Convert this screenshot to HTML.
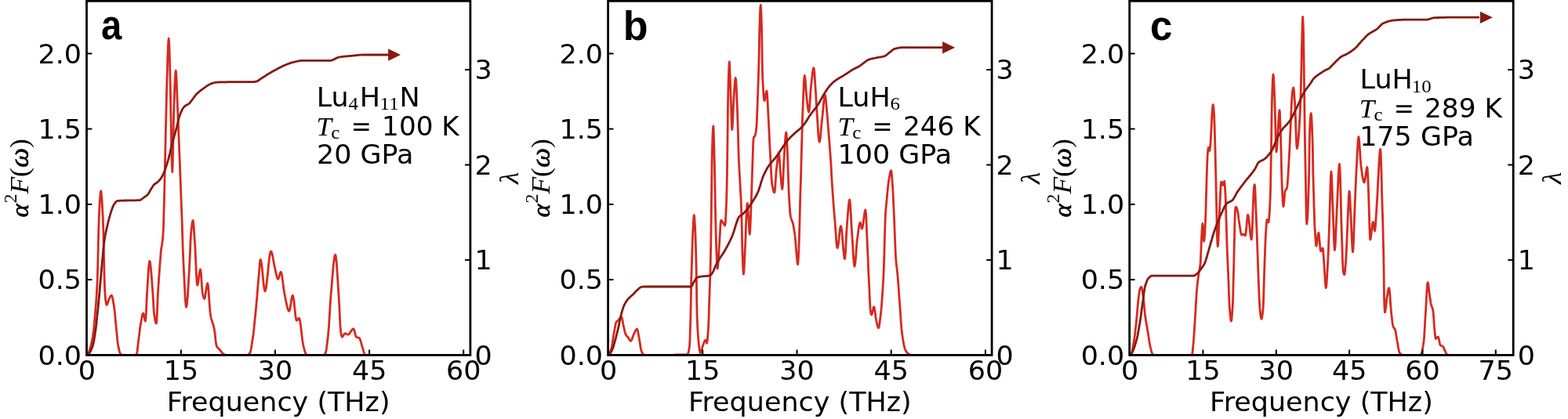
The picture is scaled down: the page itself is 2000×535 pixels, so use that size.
<!DOCTYPE html>
<html><head><meta charset="utf-8"><style>
html,body{margin:0;padding:0;background:#fff;}
svg{display:block;}
text{fill:#000;}
.t{font-family:"DejaVu Sans","Liberation Sans",sans-serif;font-size:33.5px;}
.s{font-family:"Liberation Serif",serif;font-size:35.4px;}
.i{font-style:italic;}
.b{stroke:#000;stroke-width:0.7px;}
.sup{font-size:24px;}
.seri{font-family:"Liberation Serif",serif;font-style:italic;font-size:33.5px;}
.sub{font-family:"Liberation Serif",serif;font-size:24px;}
.lt{font-family:"Liberation Sans",sans-serif;font-weight:bold;font-size:51px;}
</style></head><body>
<svg width="2000" height="535" viewBox="0 0 2000 535">
<clipPath id="c0"><rect x="110.5" y="1.3" width="489.4" height="452.09999999999997"/></clipPath>
<path clip-path="url(#c0)" d="M110.8 453.4 L111.2 453.1 L111.6 452.7 L112.0 452.2 L112.4 451.5 L112.9 450.6 L113.3 449.6 L113.8 448.4 L114.2 447.1 L114.7 445.7 L115.1 444.2 L115.6 442.6 L116.0 441.0 L116.5 439.1 L116.9 437.1 L117.4 434.8 L117.9 432.3 L118.4 429.5 L118.8 426.4 L119.3 423.0 L119.8 418.8 L120.2 413.5 L120.7 407.9 L121.2 402.2 L121.6 397.7 L122.0 393.2 L122.4 388.4 L122.8 382.9 L123.2 377.3 L123.5 371.1 L123.9 363.8 L124.3 355.0 L124.7 339.1 L125.2 318.5 L125.6 300.0 L125.9 288.4 L126.3 277.9 L126.6 270.0 L127.0 262.3 L127.4 255.2 L127.9 249.3 L128.3 245.3 L128.7 243.8 L129.1 245.4 L129.5 249.6 L130.0 255.7 L130.4 262.7 L130.8 270.0 L131.2 276.8 L131.5 285.3 L131.9 296.0 L132.2 311.9 L132.6 330.0 L132.9 346.5 L133.3 360.0 L133.6 368.7 L134.0 375.6 L134.3 380.0 L134.8 383.7 L135.2 386.6 L135.7 388.6 L136.1 389.3 L136.6 388.9 L137.1 387.8 L137.6 386.3 L138.0 384.7 L138.5 383.2 L139.0 382.0 L139.5 381.1 L139.9 380.2 L140.4 379.3 L140.8 378.5 L141.3 377.8 L141.7 377.4 L142.2 377.2 L142.6 377.6 L143.1 378.7 L143.6 380.5 L144.0 382.7 L144.4 385.3 L144.9 388.1 L145.4 391.1 L145.8 394.1 L146.3 397.9 L146.8 402.6 L147.2 407.9 L147.7 413.2 L148.2 418.2 L148.7 423.1 L149.2 428.3 L149.6 433.2 L150.1 437.5 L150.6 440.7 L151.1 443.0 L151.5 445.2 L152.0 447.1 L152.4 448.9 L152.9 450.3 L153.3 451.3 L153.8 452.0 L154.2 452.4 L154.7 452.8 L155.1 453.1 L155.6 453.3 L156.0 453.4 L156.5 453.4 L157.0 453.4 L157.5 453.4 L157.9 453.4 L158.4 453.4 L158.9 453.4 L159.4 453.4 L159.9 453.4 L160.4 453.4 L160.8 453.4 L161.3 453.4 L161.8 453.4 L162.3 453.4 L162.8 453.4 L163.3 453.4 L163.8 453.4 L164.2 453.4 L164.7 453.4 L165.2 453.4 L165.7 453.4 L166.2 453.4 L166.7 453.4 L167.2 453.4 L167.6 453.4 L168.1 453.4 L168.6 453.4 L169.1 453.4 L169.6 453.4 L170.1 453.4 L170.5 453.4 L171.0 453.4 L171.5 453.4 L172.0 453.4 L172.4 453.3 L172.8 453.2 L173.2 452.9 L173.7 452.5 L174.1 452.1 L174.5 451.5 L175.0 449.5 L175.4 445.7 L175.9 441.2 L176.4 437.0 L176.9 433.1 L177.4 429.1 L177.9 425.0 L178.3 421.1 L178.8 417.5 L179.3 414.5 L179.8 411.7 L180.3 408.9 L180.8 406.2 L181.2 403.7 L181.7 401.8 L182.2 400.5 L182.7 400.0 L183.1 400.7 L183.6 402.6 L184.1 405.0 L184.5 407.4 L184.9 409.3 L185.4 410.0 L185.9 406.9 L186.4 399.2 L186.8 389.0 L187.3 378.5 L187.8 370.0 L188.2 363.5 L188.7 356.5 L189.1 349.6 L189.5 343.3 L189.9 338.2 L190.4 334.7 L190.8 333.4 L191.3 334.3 L191.8 336.9 L192.2 340.9 L192.7 345.9 L193.2 351.6 L193.7 357.7 L194.1 364.0 L194.6 370.0 L195.1 377.3 L195.6 386.2 L196.0 394.5 L196.5 400.0 L197.0 403.4 L197.5 406.5 L197.9 409.1 L198.4 411.2 L198.9 412.5 L199.4 413.0 L199.9 409.7 L200.3 401.4 L200.8 390.4 L201.2 379.2 L201.7 370.0 L202.2 362.7 L202.6 355.9 L203.1 349.3 L203.6 343.0 L204.0 336.9 L204.5 331.0 L204.9 326.2 L205.2 321.6 L205.6 318.0 L206.0 315.5 L206.4 313.4 L206.8 311.0 L207.3 307.3 L207.7 302.5 L208.2 296.0 L208.6 287.0 L208.9 274.0 L209.3 260.0 L209.8 241.3 L210.2 220.8 L210.7 200.0 L211.1 179.3 L211.6 157.7 L212.1 137.3 L212.5 120.0 L212.9 104.3 L213.4 88.2 L213.8 73.2 L214.3 60.8 L214.8 52.3 L215.2 49.1 L215.7 53.3 L216.1 64.7 L216.6 81.0 L217.0 100.1 L217.5 120.0 L217.8 138.8 L218.2 161.5 L218.5 180.0 L218.9 198.2 L219.4 213.3 L219.8 219.6 L220.2 211.1 L220.7 191.1 L221.1 167.9 L221.5 150.0 L221.9 136.4 L222.4 122.7 L222.8 110.1 L223.3 99.7 L223.8 92.7 L224.2 90.1 L224.7 93.5 L225.2 102.4 L225.6 114.6 L226.1 127.8 L226.6 140.0 L227.1 151.3 L227.6 163.1 L228.0 175.3 L228.5 187.7 L229.0 200.0 L229.5 211.8 L229.9 223.7 L230.4 235.6 L230.8 247.8 L231.3 260.0 L231.8 273.6 L232.3 288.0 L232.8 302.5 L233.2 316.5 L233.7 329.2 L234.2 340.0 L234.7 350.0 L235.2 360.2 L235.7 370.0 L236.1 378.7 L236.6 385.7 L237.1 390.4 L237.6 392.1 L238.0 391.0 L238.5 388.1 L238.9 383.5 L239.4 377.6 L239.8 370.8 L240.3 363.3 L240.7 355.5 L241.2 347.6 L241.6 340.0 L242.1 330.3 L242.6 318.7 L243.0 307.7 L243.5 300.0 L243.9 295.3 L244.4 291.0 L244.8 287.1 L245.2 284.1 L245.7 282.1 L246.1 281.4 L246.6 283.3 L247.1 288.3 L247.5 295.1 L248.0 302.8 L248.5 310.0 L249.0 317.7 L249.4 327.2 L249.9 337.5 L250.3 347.5 L250.8 356.0 L251.2 362.0 L251.7 364.2 L252.2 363.3 L252.6 361.0 L253.1 357.8 L253.6 354.1 L254.1 350.4 L254.6 347.2 L255.0 344.9 L255.5 344.0 L255.9 345.5 L256.4 349.4 L256.8 354.8 L257.2 360.9 L257.6 366.9 L258.1 371.9 L258.5 375.0 L258.9 376.9 L259.4 378.7 L259.8 380.2 L260.3 381.1 L260.7 381.5 L261.1 380.8 L261.6 379.0 L262.0 376.4 L262.5 373.3 L262.9 370.0 L263.4 366.9 L263.8 364.3 L264.3 362.5 L264.7 361.8 L265.2 363.3 L265.7 367.2 L266.2 373.0 L266.6 379.7 L267.1 386.8 L267.6 393.5 L268.1 399.1 L268.6 402.9 L269.1 405.3 L269.6 407.3 L270.1 408.9 L270.6 410.4 L271.0 411.8 L271.5 413.2 L272.0 414.7 L272.5 416.5 L273.0 418.6 L273.5 421.5 L274.0 425.2 L274.5 429.4 L274.9 433.6 L275.4 437.4 L275.9 440.4 L276.4 442.1 L276.9 443.0 L277.4 443.6 L277.9 444.2 L278.3 444.6 L278.8 445.1 L279.3 445.5 L279.8 446.0 L280.3 446.5 L280.7 447.1 L281.2 447.7 L281.7 448.3 L282.1 448.9 L282.6 449.5 L283.1 450.0 L283.5 450.5 L284.0 451.0 L284.5 451.5 L284.9 451.9 L285.4 452.2 L285.8 452.5 L286.3 452.8 L286.7 453.0 L287.1 453.2 L287.6 453.3 L288.0 453.4 L288.5 453.4 L289.0 453.4 L289.5 453.4 L290.0 453.4 L290.5 453.4 L290.9 453.4 L291.4 453.4 L291.9 453.4 L292.4 453.4 L292.9 453.4 L293.4 453.4 L293.9 453.4 L294.4 453.4 L294.9 453.4 L295.4 453.4 L295.9 453.4 L296.3 453.4 L296.8 453.4 L297.3 453.4 L297.8 453.4 L298.3 453.4 L298.8 453.4 L299.3 453.4 L299.8 453.4 L300.3 453.4 L300.8 453.4 L301.3 453.4 L301.8 453.4 L302.2 453.4 L302.7 453.4 L303.2 453.4 L303.7 453.4 L304.2 453.4 L304.7 453.4 L305.2 453.4 L305.7 453.4 L306.2 453.4 L306.7 453.4 L307.2 453.4 L307.6 453.4 L308.1 453.4 L308.6 453.4 L309.1 453.4 L309.6 453.4 L310.1 453.4 L310.6 453.4 L311.1 453.4 L311.6 453.4 L312.1 453.4 L312.6 453.4 L313.0 453.4 L313.5 453.4 L314.0 453.4 L314.5 453.4 L315.0 453.4 L315.5 453.4 L316.0 453.3 L316.4 453.1 L316.9 452.8 L317.4 452.3 L317.9 451.8 L318.3 451.2 L318.8 450.5 L319.3 449.5 L319.7 447.8 L320.2 445.7 L320.6 443.2 L321.1 440.4 L321.5 437.5 L322.0 434.6 L322.5 431.3 L323.0 427.6 L323.5 423.6 L324.0 419.3 L324.4 414.8 L324.9 410.0 L325.4 405.1 L325.9 400.0 L326.4 394.9 L326.9 389.8 L327.3 385.1 L327.8 379.9 L328.2 374.6 L328.6 369.1 L329.0 363.8 L329.5 358.6 L329.9 353.9 L330.4 348.3 L330.9 342.4 L331.3 336.9 L331.8 332.9 L332.3 331.4 L332.8 332.2 L333.2 334.4 L333.7 337.7 L334.2 341.9 L334.7 346.6 L335.1 351.6 L335.6 356.6 L336.1 361.3 L336.6 365.5 L337.1 368.8 L337.5 371.0 L338.0 371.8 L338.5 371.2 L338.9 369.6 L339.4 367.1 L339.9 363.8 L340.3 360.0 L340.8 355.7 L341.3 351.1 L341.8 346.4 L342.2 341.6 L342.7 337.0 L343.2 332.7 L343.6 328.9 L344.1 325.6 L344.6 323.1 L345.0 321.5 L345.5 320.9 L346.0 321.3 L346.5 322.3 L347.0 323.9 L347.5 325.9 L348.0 328.3 L348.4 330.9 L348.9 333.6 L349.4 336.3 L349.9 338.9 L350.4 341.3 L350.9 343.4 L351.3 345.3 L351.8 347.4 L352.2 349.5 L352.7 351.6 L353.1 353.4 L353.6 354.9 L354.1 355.9 L354.5 356.3 L355.0 355.9 L355.4 354.9 L355.9 353.5 L356.4 351.8 L356.9 350.1 L357.4 348.7 L357.8 347.7 L358.3 347.3 L358.8 347.9 L359.2 349.5 L359.7 351.9 L360.1 355.0 L360.6 358.4 L361.0 362.1 L361.4 365.8 L361.9 369.2 L362.4 372.3 L362.8 374.8 L363.3 377.0 L363.7 379.3 L364.2 381.7 L364.6 384.0 L365.1 386.3 L365.6 388.5 L366.0 390.5 L366.5 392.4 L367.0 394.0 L367.4 395.3 L367.9 396.3 L368.3 397.0 L368.8 397.2 L369.2 396.6 L369.7 395.1 L370.2 392.9 L370.6 390.2 L371.1 387.2 L371.5 384.2 L371.9 381.5 L372.4 379.3 L372.9 377.8 L373.3 377.2 L373.8 377.9 L374.2 380.0 L374.7 383.0 L375.2 386.8 L375.6 391.0 L376.1 395.4 L376.5 399.6 L377.0 403.4 L377.5 406.4 L377.9 408.5 L378.4 409.2 L378.8 409.0 L379.3 408.6 L379.7 408.0 L380.1 407.4 L380.5 406.8 L381.0 406.4 L381.4 406.2 L381.9 406.8 L382.4 408.6 L382.9 411.2 L383.4 414.6 L383.9 418.4 L384.3 422.6 L384.8 426.8 L385.3 430.9 L385.8 434.8 L386.3 438.0 L386.8 440.6 L387.3 442.6 L387.7 444.5 L388.2 446.3 L388.6 448.0 L389.1 449.5 L389.5 450.7 L390.0 451.5 L390.4 452.1 L390.8 452.6 L391.2 453.0 L391.6 453.3 L392.0 453.4 L392.5 453.4 L393.0 453.4 L393.5 453.4 L394.0 453.4 L394.4 453.4 L394.9 453.4 L395.4 453.4 L395.9 453.4 L396.4 453.4 L396.9 453.4 L397.4 453.4 L397.9 453.4 L398.3 453.4 L398.8 453.4 L399.3 453.4 L399.8 453.4 L400.3 453.4 L400.8 453.4 L401.3 453.4 L401.8 453.4 L402.2 453.4 L402.7 453.4 L403.2 453.4 L403.7 453.4 L404.2 453.4 L404.7 453.4 L405.2 453.4 L405.7 453.4 L406.2 453.4 L406.6 453.4 L407.1 453.4 L407.6 453.4 L408.1 453.4 L408.6 453.4 L409.1 453.4 L409.6 453.4 L410.1 453.4 L410.5 453.4 L411.0 453.4 L411.5 453.4 L412.0 453.4 L412.5 453.4 L412.9 453.3 L413.4 453.0 L413.9 452.6 L414.3 452.0 L414.8 451.3 L415.2 450.5 L415.6 449.3 L416.1 447.3 L416.5 444.7 L416.9 441.5 L417.4 437.9 L417.8 434.0 L418.3 429.9 L418.7 425.7 L419.1 420.9 L419.6 414.9 L420.0 408.2 L420.4 401.1 L420.9 393.8 L421.3 386.8 L421.8 380.4 L422.2 374.9 L422.7 369.6 L423.1 364.0 L423.6 358.4 L424.0 352.9 L424.5 347.5 L424.9 342.4 L425.4 337.7 L425.9 333.6 L426.3 330.2 L426.8 327.6 L427.2 326.0 L427.7 325.4 L428.2 326.5 L428.6 329.4 L429.1 333.9 L429.6 339.6 L430.0 346.2 L430.5 353.3 L431.0 360.7 L431.4 368.0 L431.9 374.9 L432.3 381.9 L432.8 390.3 L433.2 399.3 L433.6 408.1 L434.0 416.0 L434.5 422.1 L434.9 425.7 L435.3 427.4 L435.6 428.8 L436.0 429.8 L436.4 430.2 L436.8 430.0 L437.3 429.5 L437.8 428.8 L438.2 427.9 L438.6 427.1 L439.1 426.4 L439.6 425.9 L440.0 425.7 L440.5 425.8 L441.0 425.9 L441.5 426.2 L441.9 426.4 L442.4 426.7 L442.9 427.0 L443.4 427.1 L443.9 427.2 L444.4 427.1 L444.9 426.8 L445.4 426.3 L445.9 425.7 L446.4 425.0 L446.9 424.3 L447.4 423.5 L447.8 422.7 L448.3 422.0 L448.8 421.3 L449.3 420.7 L449.8 420.2 L450.3 419.9 L450.8 419.8 L451.2 420.2 L451.7 421.3 L452.1 422.9 L452.6 424.7 L453.1 426.5 L453.5 428.2 L453.9 429.5 L454.4 430.2 L454.9 430.5 L455.4 430.7 L455.9 430.8 L456.4 430.9 L456.8 431.1 L457.3 431.2 L457.8 431.4 L458.3 431.7 L458.8 432.2 L459.2 433.2 L459.6 434.4 L460.1 435.9 L460.6 437.5 L461.0 439.2 L461.4 440.7 L461.9 442.2 L462.3 443.6 L462.8 445.1 L463.2 446.7 L463.6 448.2 L464.0 449.6 L464.5 450.7 L464.9 451.5 L465.3 452.1 L465.7 452.6 L466.2 453.0 L466.6 453.3 L467.0 453.4 L467.5 453.4 L468.0 453.4 L468.5 453.4 L469.0 453.4 L469.5 453.4 L470.0 453.4 L470.5 453.4 L471.0 453.4 L471.5 453.4 L472.0 453.4 L472.5 453.4 L473.0 453.4 L473.5 453.4 L474.0 453.4 L474.5 453.4 L475.0 453.4 L475.5 453.4 L476.0 453.4 L476.5 453.4 L477.0 453.4 L477.5 453.4 L478.0 453.4 L478.5 453.4 L479.0 453.4 L479.5 453.4 L480.0 453.4 L480.4 453.4 L480.9 453.4 L481.4 453.4 L481.9 453.4 L482.4 453.4 L482.9 453.4 L483.4 453.4 L483.9 453.4 L484.4 453.4 L484.9 453.4 L485.4 453.4 L485.9 453.4 L486.4 453.4 L486.9 453.4 L487.4 453.4 L487.9 453.4 L488.4 453.4 L488.9 453.4 L489.4 453.4 L489.9 453.4 L490.4 453.4 L490.9 453.4 L491.4 453.4 L491.9 453.4 L492.4 453.4 L492.9 453.4 L493.4 453.4 L493.9 453.4 L494.4 453.4 L494.9 453.4 L495.4 453.4 L495.9 453.4 L496.4 453.4 L496.9 453.4 L497.4 453.4 L497.9 453.4 L498.4 453.4 L498.9 453.4 L499.4 453.4 L499.9 453.4 L500.4 453.4 L500.9 453.4 L501.4 453.4 L501.9 453.4 L502.4 453.4 L502.9 453.4 L503.4 453.4 L503.9 453.4 L504.4 453.4 L504.9 453.4 L505.4 453.4 L505.9 453.4 L506.4 453.4 L506.9 453.4 L507.3 453.4 L507.8 453.4 L508.3 453.4 L508.8 453.4 L509.3 453.4 L509.8 453.4 L510.3 453.4 L510.8 453.4 L511.3 453.4 L511.8 453.4 L512.3 453.4 L512.8 453.4 L513.3 453.4 L513.8 453.4 L514.3 453.4 L514.8 453.4 L515.3 453.4 L515.8 453.4 L516.3 453.4 L516.8 453.4 L517.3 453.4 L517.8 453.4 L518.3 453.4 L518.8 453.4 L519.3 453.4 L519.8 453.4 L520.3 453.4 L520.8 453.4 L521.3 453.4 L521.8 453.4 L522.3 453.4 L522.8 453.4 L523.3 453.4 L523.8 453.4 L524.3 453.4 L524.8 453.4 L525.3 453.4 L525.8 453.4 L526.3 453.4 L526.8 453.4 L527.3 453.4 L527.8 453.4 L528.3 453.4 L528.8 453.4 L529.3 453.4 L529.8 453.4 L530.3 453.4 L530.8 453.4 L531.3 453.4 L531.8 453.4 L532.3 453.4 L532.8 453.4 L533.3 453.4 L533.7 453.4 L534.2 453.4 L534.7 453.4 L535.2 453.4 L535.7 453.4 L536.2 453.4 L536.7 453.4 L537.2 453.4 L537.7 453.4 L538.2 453.4 L538.7 453.4 L539.2 453.4 L539.7 453.4 L540.2 453.4 L540.7 453.4 L541.2 453.4 L541.7 453.4 L542.2 453.4 L542.7 453.4 L543.2 453.4 L543.7 453.4 L544.2 453.4 L544.7 453.4 L545.2 453.4 L545.7 453.4 L546.2 453.4 L546.7 453.4 L547.2 453.4 L547.7 453.4 L548.2 453.4 L548.7 453.4 L549.2 453.4 L549.7 453.4 L550.2 453.4 L550.7 453.4 L551.2 453.4 L551.7 453.4 L552.2 453.4 L552.7 453.4 L553.2 453.4 L553.7 453.4 L554.2 453.4 L554.7 453.4 L555.2 453.4 L555.7 453.4 L556.2 453.4 L556.7 453.4 L557.2 453.4 L557.7 453.4 L558.2 453.4 L558.7 453.4 L559.2 453.4 L559.7 453.4 L560.1 453.4 L560.6 453.4 L561.1 453.4 L561.6 453.4 L562.1 453.4 L562.6 453.4 L563.1 453.4 L563.6 453.4 L564.1 453.4 L564.6 453.4 L565.1 453.4 L565.6 453.4 L566.1 453.4 L566.6 453.4 L567.1 453.4 L567.6 453.4 L568.1 453.4 L568.6 453.4 L569.1 453.4 L569.6 453.4 L570.1 453.4 L570.6 453.4 L571.1 453.4 L571.6 453.4 L572.1 453.4 L572.6 453.4 L573.1 453.4 L573.6 453.4 L574.1 453.4 L574.6 453.4 L575.1 453.4 L575.6 453.4 L576.1 453.4 L576.6 453.4 L577.1 453.4 L577.6 453.4 L578.1 453.4 L578.6 453.4 L579.1 453.4 L579.6 453.4 L580.1 453.4 L580.6 453.4 L581.1 453.4 L581.6 453.4 L582.1 453.4 L582.6 453.4 L583.1 453.4 L583.6 453.4 L584.1 453.4 L584.6 453.4 L585.1 453.4 L585.6 453.4 L586.1 453.4 L586.6 453.4 L587.0 453.4 L587.5 453.4 L588.0 453.4 L588.5 453.4 L589.0 453.4 L589.5 453.4 L590.0 453.4 L590.5 453.4 L591.0 453.4 L591.5 453.4 L592.0 453.4 L592.5 453.4 L593.0 453.4 L593.5 453.4 L594.0 453.4 L594.5 453.4 L595.0 453.4 L595.5 453.4 L596.0 453.4 L596.5 453.4 L597.0 453.4 L597.5 453.4 L598.0 453.4 L598.5 453.4 L599.0 453.4 L599.5 453.4 L600.0 453.4" fill="none" stroke="#d62a1f" stroke-width="2.8" stroke-linejoin="round" stroke-linecap="round"/>
<path d="M110.8 453.4 L111.3 453.2 L111.7 452.9 L112.2 452.6 L112.7 452.2 L113.1 451.7 L113.6 451.2 L114.1 450.6 L114.6 449.9 L115.1 449.1 L115.6 448.2 L116.0 447.2 L116.5 446.1 L117.0 444.9 L117.5 443.6 L118.0 442.2 L118.5 440.7 L119.0 439.0 L119.4 437.0 L119.9 434.6 L120.3 432.0 L120.8 429.1 L121.2 426.1 L121.7 423.0 L122.2 419.5 L122.7 415.5 L123.1 411.2 L123.6 406.7 L124.1 402.2 L124.6 397.6 L125.1 392.9 L125.5 388.1 L126.0 383.1 L126.5 378.0 L127.0 372.8 L127.4 367.5 L127.9 361.9 L128.4 356.4 L128.9 350.9 L129.3 345.5 L129.8 340.4 L130.3 335.2 L130.8 329.8 L131.3 324.5 L131.7 319.4 L132.2 314.7 L132.7 310.4 L133.2 306.8 L133.7 303.8 L134.1 301.1 L134.6 298.6 L135.1 296.3 L135.6 294.1 L136.0 292.1 L136.5 290.0 L137.0 288.0 L137.4 286.1 L137.9 284.2 L138.3 282.3 L138.8 280.5 L139.2 278.7 L139.7 277.0 L140.2 275.3 L140.6 273.8 L141.1 272.2 L141.5 270.8 L142.0 269.4 L142.5 268.1 L142.9 266.8 L143.4 265.5 L143.8 264.3 L144.3 263.2 L144.7 262.3 L145.2 261.5 L145.7 260.8 L146.1 260.1 L146.6 259.4 L147.0 258.8 L147.5 258.2 L148.0 257.7 L148.4 257.2 L148.9 256.9 L149.3 256.6 L149.8 256.5 L150.3 256.4 L150.8 256.4 L151.3 256.4 L151.8 256.3 L152.2 256.3 L152.7 256.3 L153.2 256.2 L153.7 256.2 L154.2 256.2 L154.7 256.2 L155.2 256.1 L155.7 256.1 L156.2 256.1 L156.7 256.1 L157.2 256.1 L157.6 256.1 L158.1 256.0 L158.6 256.0 L159.1 256.0 L159.6 256.0 L160.1 256.0 L160.6 256.0 L161.1 256.0 L161.6 255.9 L162.1 255.9 L162.6 255.9 L163.1 255.9 L163.6 255.9 L164.1 255.9 L164.6 255.9 L165.1 255.9 L165.6 255.9 L166.1 255.9 L166.6 255.9 L167.1 255.9 L167.6 255.9 L168.1 255.9 L168.6 255.8 L169.0 255.8 L169.5 255.8 L170.0 255.8 L170.5 255.8 L171.0 255.8 L171.5 255.8 L172.0 255.8 L172.5 255.8 L173.0 255.8 L173.5 255.8 L174.0 255.8 L174.5 255.7 L175.0 255.7 L175.5 255.7 L176.0 255.7 L176.5 255.7 L177.0 255.6 L177.5 255.6 L178.0 255.6 L178.5 255.5 L178.9 255.4 L179.4 255.2 L179.9 254.9 L180.4 254.6 L180.8 254.2 L181.3 253.9 L181.8 253.5 L182.3 253.1 L182.7 252.7 L183.2 252.4 L183.7 252.1 L184.1 251.8 L184.6 251.5 L185.1 251.1 L185.6 250.8 L186.0 250.5 L186.5 250.1 L187.0 249.7 L187.5 249.3 L187.9 248.9 L188.4 248.4 L188.8 247.9 L189.3 247.3 L189.7 246.6 L190.2 245.8 L190.6 245.0 L191.1 244.2 L191.5 243.4 L192.0 242.6 L192.4 241.9 L192.9 241.1 L193.4 240.3 L193.9 239.5 L194.4 238.7 L194.8 237.9 L195.3 237.2 L195.8 236.6 L196.3 236.0 L196.8 235.5 L197.2 235.1 L197.7 234.8 L198.2 234.5 L198.7 234.1 L199.1 233.8 L199.6 233.5 L200.1 233.2 L200.6 232.9 L201.0 232.5 L201.5 232.1 L202.0 231.6 L202.5 231.1 L203.0 230.6 L203.4 230.1 L203.9 229.5 L204.4 228.9 L204.9 228.2 L205.4 227.5 L205.8 226.8 L206.3 226.1 L206.7 225.3 L207.2 224.4 L207.6 223.5 L208.1 222.6 L208.5 221.6 L209.0 220.6 L209.4 219.6 L209.9 218.5 L210.3 217.3 L210.8 216.0 L211.2 214.7 L211.7 213.3 L212.1 211.9 L212.6 210.5 L213.1 209.1 L213.5 207.6 L213.9 206.1 L214.4 204.6 L214.9 203.0 L215.3 201.3 L215.8 199.4 L216.3 197.4 L216.8 195.3 L217.2 193.1 L217.7 191.0 L218.2 188.8 L218.7 186.8 L219.2 184.8 L219.7 183.0 L220.1 181.3 L220.6 179.6 L221.1 177.9 L221.5 176.3 L222.0 174.7 L222.5 173.1 L222.9 171.5 L223.4 169.8 L223.9 168.2 L224.3 166.5 L224.8 164.7 L225.2 162.9 L225.7 161.0 L226.2 159.0 L226.6 157.1 L227.1 155.1 L227.5 153.3 L228.0 151.5 L228.4 150.0 L228.8 148.7 L229.3 147.4 L229.7 146.2 L230.1 145.1 L230.6 144.0 L231.0 143.0 L231.5 141.9 L232.0 140.9 L232.4 139.9 L232.9 139.0 L233.4 138.3 L233.8 137.7 L234.3 137.1 L234.8 136.6 L235.2 136.2 L235.7 135.7 L236.1 135.3 L236.6 134.9 L237.0 134.6 L237.4 134.3 L237.9 134.1 L238.3 133.8 L238.8 133.6 L239.2 133.4 L239.7 133.2 L240.1 133.0 L240.6 132.7 L241.0 132.4 L241.5 132.0 L241.9 131.5 L242.4 131.0 L242.9 130.4 L243.3 129.8 L243.8 129.2 L244.3 128.5 L244.7 127.9 L245.2 127.3 L245.7 126.7 L246.1 126.1 L246.6 125.4 L247.1 124.8 L247.5 124.1 L248.0 123.5 L248.4 122.9 L248.9 122.2 L249.4 121.7 L249.8 121.1 L250.3 120.6 L250.8 120.1 L251.3 119.6 L251.8 119.1 L252.3 118.7 L252.8 118.2 L253.3 117.8 L253.8 117.3 L254.3 116.9 L254.7 116.5 L255.2 116.1 L255.7 115.7 L256.2 115.3 L256.7 115.0 L257.2 114.6 L257.7 114.2 L258.2 113.9 L258.7 113.5 L259.2 113.1 L259.7 112.8 L260.1 112.4 L260.6 112.1 L261.1 111.7 L261.6 111.4 L262.1 111.0 L262.5 110.7 L263.0 110.4 L263.5 110.0 L264.0 109.7 L264.5 109.4 L265.0 109.1 L265.4 108.8 L265.9 108.5 L266.4 108.2 L266.9 108.0 L267.4 107.7 L267.8 107.5 L268.3 107.3 L268.8 107.1 L269.3 106.9 L269.8 106.7 L270.2 106.6 L270.7 106.4 L271.2 106.2 L271.7 106.1 L272.1 105.9 L272.6 105.8 L273.1 105.6 L273.6 105.5 L274.1 105.4 L274.5 105.3 L275.0 105.3 L275.5 105.2 L276.0 105.2 L276.5 105.1 L277.0 105.1 L277.5 105.1 L278.0 105.0 L278.5 105.0 L279.0 105.0 L279.5 104.9 L279.9 104.9 L280.4 104.9 L280.9 104.9 L281.4 104.9 L281.9 104.8 L282.4 104.8 L282.9 104.8 L283.4 104.8 L283.9 104.8 L284.4 104.8 L284.9 104.8 L285.4 104.8 L285.9 104.8 L286.4 104.8 L286.9 104.8 L287.4 104.8 L287.9 104.8 L288.4 104.8 L288.9 104.8 L289.4 104.8 L289.9 104.7 L290.3 104.7 L290.8 104.7 L291.3 104.7 L291.8 104.7 L292.3 104.7 L292.8 104.7 L293.3 104.7 L293.8 104.7 L294.3 104.7 L294.8 104.7 L295.3 104.7 L295.8 104.7 L296.3 104.7 L296.8 104.7 L297.3 104.7 L297.8 104.7 L298.3 104.7 L298.8 104.7 L299.3 104.7 L299.8 104.7 L300.3 104.7 L300.8 104.7 L301.3 104.7 L301.8 104.7 L302.3 104.7 L302.8 104.7 L303.2 104.7 L303.7 104.7 L304.2 104.7 L304.7 104.7 L305.2 104.7 L305.7 104.7 L306.2 104.7 L306.7 104.7 L307.2 104.7 L307.7 104.7 L308.2 104.7 L308.7 104.7 L309.2 104.7 L309.7 104.7 L310.2 104.7 L310.7 104.7 L311.2 104.7 L311.7 104.7 L312.2 104.7 L312.7 104.7 L313.2 104.7 L313.7 104.7 L314.2 104.7 L314.7 104.7 L315.2 104.7 L315.7 104.7 L316.2 104.7 L316.6 104.7 L317.1 104.7 L317.6 104.7 L318.1 104.6 L318.6 104.6 L319.1 104.6 L319.6 104.6 L320.1 104.6 L320.6 104.6 L321.1 104.6 L321.6 104.6 L322.1 104.6 L322.6 104.6 L323.1 104.6 L323.5 104.6 L324.0 104.5 L324.5 104.5 L324.9 104.4 L325.4 104.3 L325.8 104.2 L326.3 104.1 L326.8 104.0 L327.2 103.9 L327.7 103.8 L328.2 103.6 L328.7 103.4 L329.1 103.1 L329.6 102.8 L330.1 102.4 L330.6 102.1 L331.0 101.7 L331.5 101.3 L332.0 101.0 L332.5 100.7 L332.9 100.4 L333.4 100.1 L333.8 99.8 L334.3 99.6 L334.7 99.3 L335.2 99.0 L335.6 98.7 L336.1 98.4 L336.6 98.1 L337.1 97.8 L337.6 97.4 L338.1 97.1 L338.5 96.8 L339.0 96.4 L339.5 96.1 L340.0 95.8 L340.5 95.5 L341.0 95.2 L341.5 94.9 L341.9 94.6 L342.4 94.3 L342.9 94.0 L343.4 93.8 L343.9 93.5 L344.3 93.2 L344.8 92.9 L345.3 92.6 L345.8 92.4 L346.2 92.1 L346.7 91.8 L347.2 91.5 L347.7 91.3 L348.2 91.0 L348.6 90.7 L349.1 90.5 L349.6 90.2 L350.1 89.9 L350.6 89.7 L351.0 89.4 L351.5 89.2 L352.0 88.9 L352.5 88.6 L353.0 88.4 L353.5 88.1 L354.0 87.8 L354.5 87.6 L355.0 87.3 L355.5 87.0 L356.0 86.8 L356.5 86.5 L357.0 86.2 L357.4 86.0 L357.9 85.7 L358.4 85.5 L358.9 85.2 L359.4 85.0 L359.9 84.7 L360.4 84.5 L360.9 84.3 L361.4 84.0 L361.9 83.8 L362.4 83.6 L362.9 83.4 L363.4 83.2 L363.9 83.0 L364.4 82.8 L364.9 82.6 L365.3 82.4 L365.8 82.2 L366.3 82.0 L366.8 81.8 L367.3 81.7 L367.8 81.5 L368.3 81.3 L368.8 81.1 L369.2 80.9 L369.7 80.8 L370.2 80.6 L370.7 80.4 L371.2 80.3 L371.7 80.1 L372.2 80.0 L372.7 79.8 L373.1 79.7 L373.6 79.6 L374.1 79.4 L374.6 79.3 L375.1 79.2 L375.6 79.1 L376.1 79.0 L376.6 78.8 L377.1 78.7 L377.6 78.6 L378.1 78.5 L378.6 78.4 L379.1 78.3 L379.6 78.1 L380.1 78.0 L380.6 77.9 L381.0 77.8 L381.5 77.7 L382.0 77.7 L382.5 77.6 L383.0 77.5 L383.5 77.4 L384.0 77.4 L384.5 77.4 L385.0 77.3 L385.5 77.3 L386.0 77.3 L386.5 77.3 L387.0 77.3 L387.5 77.3 L388.0 77.3 L388.5 77.3 L389.0 77.3 L389.5 77.3 L390.0 77.3 L390.5 77.3 L391.0 77.3 L391.5 77.3 L391.9 77.3 L392.4 77.3 L392.9 77.3 L393.4 77.3 L393.9 77.3 L394.4 77.3 L394.9 77.3 L395.4 77.3 L395.9 77.3 L396.4 77.3 L396.9 77.3 L397.4 77.3 L397.9 77.3 L398.4 77.3 L398.9 77.3 L399.4 77.3 L399.9 77.3 L400.4 77.3 L400.9 77.3 L401.4 77.3 L401.9 77.3 L402.4 77.3 L402.9 77.3 L403.4 77.3 L403.8 77.3 L404.3 77.3 L404.8 77.3 L405.3 77.3 L405.8 77.3 L406.3 77.3 L406.8 77.3 L407.3 77.3 L407.8 77.3 L408.3 77.3 L408.8 77.3 L409.3 77.3 L409.8 77.3 L410.3 77.3 L410.8 77.3 L411.3 77.3 L411.8 77.3 L412.3 77.3 L412.8 77.3 L413.3 77.3 L413.8 77.3 L414.3 77.3 L414.8 77.3 L415.3 77.3 L415.7 77.3 L416.2 77.3 L416.7 77.3 L417.2 77.3 L417.7 77.3 L418.2 77.3 L418.7 77.3 L419.2 77.3 L419.7 77.3 L420.2 77.3 L420.7 77.3 L421.2 77.3 L421.7 77.3 L422.2 77.2 L422.6 77.1 L423.1 77.0 L423.6 76.9 L424.1 76.7 L424.5 76.5 L425.0 76.3 L425.5 76.1 L426.0 75.8 L426.5 75.6 L426.9 75.3 L427.4 75.1 L427.9 74.8 L428.4 74.6 L428.9 74.3 L429.3 74.1 L429.8 73.9 L430.3 73.7 L430.8 73.5 L431.2 73.3 L431.7 73.2 L432.2 73.1 L432.7 73.0 L433.2 72.9 L433.7 72.8 L434.2 72.8 L434.7 72.7 L435.2 72.6 L435.7 72.6 L436.1 72.5 L436.6 72.4 L437.1 72.4 L437.6 72.3 L438.1 72.2 L438.6 72.2 L439.1 72.1 L439.6 72.1 L440.1 72.0 L440.6 72.0 L441.1 71.9 L441.6 71.9 L442.1 71.8 L442.6 71.8 L443.1 71.7 L443.6 71.7 L444.1 71.7 L444.5 71.6 L445.0 71.6 L445.5 71.5 L446.0 71.5 L446.5 71.4 L447.0 71.4 L447.5 71.3 L448.0 71.3 L448.5 71.3 L449.0 71.2 L449.5 71.2 L450.0 71.1 L450.5 71.0 L451.0 71.0 L451.5 70.9 L451.9 70.9 L452.4 70.8 L452.9 70.8 L453.4 70.7 L453.9 70.7 L454.4 70.6 L454.9 70.6 L455.4 70.5 L455.9 70.5 L456.4 70.4 L456.9 70.4 L457.4 70.3 L457.9 70.3 L458.4 70.2 L458.9 70.2 L459.4 70.2 L459.9 70.1 L460.3 70.1 L460.8 70.1 L461.3 70.1 L461.8 70.0 L462.3 70.0 L462.8 70.0 L463.3 70.0 L463.8 70.0 L464.3 70.0 L464.8 70.0 L465.3 70.0 L465.8 70.0 L466.3 70.0 L466.8 70.0 L467.3 70.0 L467.8 70.0 L468.3 70.0 L468.8 70.0 L469.3 70.0 L469.8 70.0 L470.3 70.0 L470.8 70.0 L471.3 70.0 L471.8 70.0 L472.2 70.0 L472.7 70.0 L473.2 70.0 L473.7 70.0 L474.2 70.0 L474.7 70.0 L475.2 70.0 L475.7 70.0 L476.2 70.0 L476.7 70.0 L477.2 70.0 L477.7 70.0 L478.2 70.0 L478.7 70.0 L479.2 70.0 L479.7 70.0 L480.2 70.0 L480.7 70.0 L481.2 70.0 L481.7 70.0 L482.2 70.0 L482.7 70.0 L483.2 70.0 L483.7 70.0 L484.2 70.0 L484.7 70.0 L485.2 70.0 L485.7 70.0 L486.2 70.0 L486.7 70.0 L487.2 70.0 L487.7 70.0 L488.2 70.0 L488.6 70.0 L489.1 70.0 L489.6 70.0 L490.1 70.0 L490.6 70.0 L491.1 70.0 L491.6 70.0 L492.1 70.0 L492.6 70.0 L493.1 70.0 L493.6 70.0 L494.1 70.0 L494.6 70.0 L495.1 70.0 L495.6 70.0 L496.1 70.0 L496.6 70.0" fill="none" stroke="#861a12" stroke-width="2.8" stroke-linejoin="round" stroke-linecap="butt"/>
<polygon points="495.1,62.2 511.0,70.0 495.1,77.8" fill="#861a12"/>
<rect x="110.5" y="1.3" width="489.4" height="452.1" fill="none" stroke="#000" stroke-width="2.8"/>
<text transform="translate(110.80,484.60) scale(1.043,1)" text-anchor="middle" class="t">0</text>
<line x1="230.9" y1="453.4" x2="230.9" y2="446.5" stroke="#000" stroke-width="2.0"/>
<text transform="translate(230.90,484.60) scale(1.043,1)" text-anchor="middle" class="t">15</text>
<line x1="351.0" y1="453.4" x2="351.0" y2="446.5" stroke="#000" stroke-width="2.0"/>
<text transform="translate(351.01,484.60) scale(1.043,1)" text-anchor="middle" class="t">30</text>
<line x1="471.1" y1="453.4" x2="471.1" y2="446.5" stroke="#000" stroke-width="2.0"/>
<text transform="translate(471.12,484.60) scale(1.043,1)" text-anchor="middle" class="t">45</text>
<line x1="591.2" y1="453.4" x2="591.2" y2="446.5" stroke="#000" stroke-width="2.0"/>
<text transform="translate(591.22,484.60) scale(1.043,1)" text-anchor="middle" class="t">60</text>
<text transform="translate(104.00,465.60) scale(1.043,1)" text-anchor="end" class="t">0.0</text>
<line x1="110.5" y1="357.1" x2="117.4" y2="357.1" stroke="#000" stroke-width="2.0"/>
<text transform="translate(104.00,369.35) scale(1.043,1)" text-anchor="end" class="t">0.5</text>
<line x1="110.5" y1="260.9" x2="117.4" y2="260.9" stroke="#000" stroke-width="2.0"/>
<text transform="translate(104.00,273.10) scale(1.043,1)" text-anchor="end" class="t">1.0</text>
<line x1="110.5" y1="164.6" x2="117.4" y2="164.6" stroke="#000" stroke-width="2.0"/>
<text transform="translate(104.00,176.85) scale(1.043,1)" text-anchor="end" class="t">1.5</text>
<line x1="110.5" y1="68.4" x2="117.4" y2="68.4" stroke="#000" stroke-width="2.0"/>
<text transform="translate(104.00,80.60) scale(1.043,1)" text-anchor="end" class="t">2.0</text>
<text transform="translate(605.40,465.60) scale(1.043,1)" text-anchor="start" class="t">0</text>
<line x1="599.9" y1="331.9" x2="593.0" y2="331.9" stroke="#000" stroke-width="2.0"/>
<text transform="translate(605.40,344.13) scale(1.043,1)" text-anchor="start" class="t">1</text>
<line x1="599.9" y1="210.5" x2="593.0" y2="210.5" stroke="#000" stroke-width="2.0"/>
<text transform="translate(605.40,222.66) scale(1.043,1)" text-anchor="start" class="t">2</text>
<line x1="599.9" y1="89.0" x2="593.0" y2="89.0" stroke="#000" stroke-width="2.0"/>
<text transform="translate(605.40,101.19) scale(1.043,1)" text-anchor="start" class="t">3</text>
<text transform="translate(355.20,524.80) scale(1.043,1)" text-anchor="middle" class="t">Frequency (THz)</text>
<text transform="translate(35.5,227.3) rotate(-90) scale(1,0.96)" text-anchor="middle" class="s"><tspan class="i b" font-size="32">α</tspan><tspan class="sup" dy="-15" dx="1">2</tspan><tspan class="i" dy="15">F</tspan>(<tspan class="i b">ω</tspan>)</text>
<text transform="translate(660.9,227.3) rotate(-90) scale(1,0.96)" text-anchor="middle" class="s i">λ</text>
<text transform="translate(128.91,50.20) scale(0.926,1)" text-anchor="start" class="lt">a</text>
<clipPath id="c1"><rect x="775.6" y="1.3" width="489.4999999999999" height="452.09999999999997"/></clipPath>
<path clip-path="url(#c1)" d="M776.0 453.4 L776.4 453.1 L776.7 452.6 L777.1 451.9 L777.6 451.0 L778.0 450.0 L778.5 448.8 L778.9 447.5 L779.3 446.1 L779.8 444.6 L780.2 443.0 L780.6 441.0 L781.1 438.5 L781.5 435.6 L782.0 432.6 L782.4 429.5 L782.9 426.6 L783.3 424.1 L783.8 421.5 L784.2 418.9 L784.7 416.3 L785.2 414.1 L785.6 412.3 L786.1 411.2 L786.6 410.6 L787.1 410.1 L787.5 409.8 L788.0 409.4 L788.5 409.0 L789.0 408.5 L789.4 407.9 L789.9 407.3 L790.4 406.7 L790.8 406.1 L791.3 405.6 L791.8 405.2 L792.2 404.9 L792.7 404.8 L793.2 405.4 L793.6 407.1 L794.1 409.5 L794.6 412.2 L795.0 414.8 L795.5 417.1 L796.0 419.2 L796.5 421.4 L796.9 423.4 L797.4 425.2 L797.9 426.5 L798.3 427.3 L798.8 428.0 L799.2 428.6 L799.6 429.2 L800.1 429.7 L800.5 430.1 L801.0 430.6 L801.4 431.2 L801.8 431.9 L802.3 432.6 L802.7 433.4 L803.2 434.2 L803.6 434.8 L804.1 435.2 L804.5 435.4 L804.9 435.2 L805.4 434.6 L805.8 433.6 L806.3 432.5 L806.7 431.2 L807.2 429.9 L807.6 428.6 L808.1 427.5 L808.5 426.5 L808.9 425.6 L809.4 424.7 L809.8 423.7 L810.3 422.8 L810.7 422.0 L811.2 421.2 L811.6 420.6 L812.1 420.2 L812.5 420.1 L812.9 420.6 L813.4 421.9 L813.8 423.8 L814.2 426.1 L814.6 428.6 L815.1 431.2 L815.5 433.5 L816.0 436.3 L816.5 439.5 L816.9 442.8 L817.4 445.6 L817.9 447.6 L818.4 448.9 L818.8 450.0 L819.3 450.9 L819.7 451.7 L820.2 452.2 L820.7 452.6 L821.1 453.0 L821.5 453.3 L822.0 453.4 L822.5 453.4 L823.0 453.4 L823.5 453.4 L824.0 453.4 L824.5 453.4 L825.0 453.4 L825.5 453.4 L825.9 453.4 L826.4 453.4 L826.9 453.4 L827.4 453.4 L827.9 453.4 L828.4 453.4 L828.9 453.4 L829.4 453.4 L829.9 453.4 L830.4 453.4 L830.9 453.4 L831.4 453.4 L831.9 453.4 L832.4 453.4 L832.9 453.4 L833.3 453.4 L833.8 453.4 L834.3 453.4 L834.8 453.4 L835.3 453.4 L835.8 453.4 L836.3 453.4 L836.8 453.4 L837.3 453.4 L837.8 453.4 L838.3 453.4 L838.8 453.4 L839.3 453.4 L839.8 453.4 L840.3 453.4 L840.8 453.4 L841.2 453.4 L841.7 453.4 L842.2 453.4 L842.7 453.4 L843.2 453.4 L843.7 453.4 L844.2 453.4 L844.7 453.4 L845.2 453.4 L845.7 453.4 L846.2 453.4 L846.7 453.4 L847.2 453.4 L847.7 453.4 L848.2 453.4 L848.6 453.4 L849.1 453.4 L849.6 453.4 L850.1 453.4 L850.6 453.4 L851.1 453.4 L851.6 453.4 L852.1 453.4 L852.6 453.4 L853.1 453.4 L853.6 453.4 L854.1 453.4 L854.6 453.4 L855.1 453.4 L855.6 453.4 L856.0 453.4 L856.5 453.4 L857.0 453.4 L857.5 453.4 L858.0 453.4 L858.5 453.4 L859.0 453.4 L859.5 453.4 L859.9 453.3 L860.2 453.2 L860.6 453.0 L861.0 452.9 L861.5 452.9 L862.0 452.9 L862.5 452.9 L863.0 452.9 L863.5 452.9 L864.0 452.9 L864.5 452.9 L864.9 452.9 L865.4 452.9 L865.9 452.9 L866.4 452.9 L866.9 452.9 L867.4 452.9 L867.9 452.9 L868.4 452.9 L868.9 452.9 L869.4 452.8 L869.9 452.8 L870.4 452.8 L870.9 452.8 L871.4 452.8 L871.9 452.8 L872.3 452.8 L872.8 452.8 L873.3 452.8 L873.8 452.8 L874.3 452.8 L874.8 452.8 L875.3 452.8 L875.8 452.8 L876.2 452.7 L876.5 452.5 L876.9 452.2 L877.3 451.8 L877.7 451.0 L878.2 449.6 L878.6 447.5 L879.1 444.8 L879.5 441.4 L880.0 433.7 L880.4 420.1 L880.9 403.3 L881.3 381.1 L881.7 358.4 L882.2 343.0 L882.6 330.0 L883.0 317.2 L883.4 304.7 L883.8 295.0 L884.2 287.9 L884.5 281.3 L884.9 276.6 L885.3 274.7 L885.7 276.5 L886.0 281.2 L886.4 287.7 L886.8 295.0 L887.2 305.2 L887.6 319.3 L888.0 336.0 L888.4 358.3 L888.7 384.7 L889.1 403.3 L889.5 413.6 L889.9 421.5 L890.3 427.6 L890.7 432.4 L891.1 436.8 L891.5 441.1 L892.0 444.8 L892.4 447.8 L892.8 449.8 L893.2 450.5 L893.7 450.1 L894.1 449.2 L894.6 447.7 L895.1 446.1 L895.6 444.4 L896.0 442.7 L896.5 441.4 L897.0 440.1 L897.5 438.8 L898.0 437.4 L898.4 436.2 L898.9 435.2 L899.4 434.5 L899.9 434.2 L900.3 434.8 L900.7 436.1 L901.1 437.4 L901.5 438.0 L901.9 436.7 L902.4 433.3 L902.8 428.1 L903.3 421.7 L903.7 414.5 L904.1 405.4 L904.4 392.9 L904.8 380.8 L905.2 370.2 L905.6 359.9 L906.0 347.2 L906.4 329.0 L906.8 305.9 L907.2 280.0 L907.5 252.3 L907.9 221.6 L908.2 200.0 L908.6 185.1 L909.0 172.7 L909.4 164.2 L909.8 161.0 L910.2 165.1 L910.5 175.7 L910.9 189.9 L911.3 205.0 L911.6 221.5 L912.0 241.5 L912.3 260.0 L912.7 281.1 L913.2 300.5 L913.6 315.0 L914.0 325.0 L914.4 334.0 L914.8 340.5 L915.2 343.0 L915.7 341.0 L916.1 335.8 L916.5 328.5 L917.0 320.1 L917.5 311.9 L917.9 304.8 L918.4 297.7 L918.8 290.0 L919.2 283.8 L919.7 281.3 L920.2 281.5 L920.6 281.9 L921.0 282.5 L921.5 283.3 L922.0 284.0 L922.4 284.7 L922.9 285.4 L923.3 286.3 L923.8 287.1 L924.2 287.8 L924.7 288.0 L925.2 285.7 L925.6 279.4 L926.0 270.5 L926.5 260.0 L926.8 249.3 L927.2 234.2 L927.5 216.0 L928.0 178.0 L928.4 140.0 L928.8 116.7 L929.3 100.0 L929.6 90.3 L930.0 82.2 L930.3 78.9 L930.7 83.4 L931.1 94.2 L931.6 107.7 L932.0 120.0 L932.5 133.4 L932.9 148.3 L933.3 160.5 L933.8 165.5 L934.2 162.3 L934.7 154.3 L935.1 143.8 L935.6 133.2 L936.0 125.0 L936.4 118.3 L936.9 111.4 L937.3 105.3 L937.8 101.0 L938.2 99.3 L938.7 101.8 L939.1 108.6 L939.6 118.2 L940.0 129.4 L940.5 140.8 L940.9 153.7 L941.4 170.0 L941.8 186.5 L942.2 200.0 L942.7 211.4 L943.2 220.8 L943.7 229.0 L944.1 236.9 L944.6 245.4 L945.1 255.2 L945.6 267.3 L946.0 280.8 L946.4 298.0 L946.7 314.8 L947.1 327.3 L947.5 337.8 L948.0 346.4 L948.4 350.0 L948.8 347.8 L949.2 341.9 L949.6 333.8 L950.0 324.7 L950.4 316.0 L950.9 305.1 L951.3 292.3 L951.8 280.1 L952.2 271.2 L952.6 265.8 L952.9 261.4 L953.3 259.5 L953.7 261.5 L954.0 266.3 L954.4 272.3 L954.8 278.0 L955.2 284.0 L955.5 291.0 L955.9 296.6 L956.3 299.0 L956.7 295.8 L957.1 287.9 L957.5 277.6 L957.9 267.3 L958.3 255.8 L958.8 242.4 L959.2 228.6 L959.6 216.0 L960.0 203.8 L960.4 191.1 L960.8 180.8 L961.2 176.0 L961.7 175.1 L962.1 174.6 L962.5 174.2 L963.0 173.4 L963.5 172.0 L963.9 169.9 L964.3 167.0 L964.8 163.3 L965.2 157.9 L965.5 149.6 L965.9 139.7 L966.3 129.6 L966.7 118.8 L967.1 107.1 L967.5 94.2 L967.9 80.0 L968.3 63.2 L968.6 44.4 L969.0 30.0 L969.4 18.9 L969.8 10.0 L970.2 6.3 L970.6 9.9 L971.0 18.7 L971.4 30.0 L971.8 50.2 L972.2 77.3 L972.6 96.0 L973.1 106.5 L973.6 115.5 L974.0 122.4 L974.5 126.9 L975.0 128.5 L975.5 127.6 L976.0 125.3 L976.5 122.3 L976.9 119.4 L977.4 117.1 L977.9 116.2 L978.4 118.6 L978.8 124.9 L979.3 133.5 L979.7 143.1 L980.2 152.0 L980.6 160.4 L981.1 169.6 L981.5 179.2 L982.0 188.4 L982.4 196.9 L982.9 205.9 L983.4 215.1 L983.8 223.6 L984.3 230.5 L984.8 235.0 L985.2 237.5 L985.7 239.8 L986.1 241.9 L986.5 243.6 L986.9 244.9 L987.4 245.7 L987.8 246.0 L988.2 244.2 L988.7 239.6 L989.1 233.3 L989.6 226.4 L990.0 219.9 L990.5 215.0 L991.0 210.8 L991.5 206.5 L992.0 202.5 L992.4 199.1 L992.9 196.8 L993.4 196.0 L993.9 198.3 L994.4 204.0 L994.8 211.4 L995.3 219.0 L995.8 225.0 L996.2 229.2 L996.6 233.6 L997.0 237.6 L997.4 240.4 L997.8 241.5 L998.3 238.3 L998.8 230.2 L999.2 219.5 L999.7 208.7 L1000.2 200.0 L1000.6 193.4 L1001.1 186.5 L1001.5 179.9 L1001.9 174.3 L1002.4 170.4 L1002.8 169.0 L1003.2 171.3 L1003.6 177.2 L1004.0 185.7 L1004.4 195.3 L1004.8 205.0 L1005.2 217.9 L1005.7 232.9 L1006.1 244.8 L1006.6 253.4 L1007.0 261.2 L1007.5 267.8 L1007.9 272.8 L1008.4 276.2 L1008.9 278.3 L1009.4 279.9 L1009.8 281.1 L1010.3 282.2 L1010.8 283.5 L1011.3 285.2 L1011.8 287.1 L1012.2 289.3 L1012.6 291.8 L1013.1 294.5 L1013.5 297.5 L1014.0 300.9 L1014.4 305.2 L1014.9 310.7 L1015.3 316.6 L1015.8 322.3 L1016.2 327.0 L1016.7 331.7 L1017.1 335.9 L1017.6 337.7 L1018.0 335.2 L1018.4 328.7 L1018.8 319.8 L1019.2 310.0 L1019.6 295.8 L1020.1 277.6 L1020.5 260.0 L1020.9 245.0 L1021.4 230.6 L1021.8 216.0 L1022.2 200.5 L1022.6 184.0 L1023.1 167.7 L1023.5 152.9 L1023.9 140.8 L1024.4 128.7 L1024.9 116.7 L1025.3 106.4 L1025.8 99.2 L1026.3 96.5 L1026.7 98.1 L1027.2 102.3 L1027.6 108.1 L1028.0 114.5 L1028.5 120.4 L1028.9 125.0 L1029.4 129.0 L1029.8 133.1 L1030.3 136.9 L1030.8 140.1 L1031.2 142.3 L1031.7 143.1 L1032.2 141.2 L1032.6 136.3 L1033.1 129.6 L1033.6 122.2 L1034.0 115.3 L1034.5 110.0 L1035.0 105.6 L1035.5 101.1 L1036.0 96.7 L1036.4 92.8 L1036.9 89.7 L1037.4 87.6 L1037.9 86.8 L1038.4 88.6 L1038.9 93.5 L1039.3 100.2 L1039.8 107.7 L1040.3 115.0 L1040.7 121.0 L1041.0 127.9 L1041.4 134.7 L1041.8 140.8 L1042.3 148.2 L1042.8 155.9 L1043.3 163.6 L1043.7 170.4 L1044.2 176.0 L1044.7 179.8 L1045.2 181.2 L1045.7 180.1 L1046.2 177.1 L1046.7 172.7 L1047.1 167.5 L1047.6 162.0 L1048.1 156.6 L1048.6 152.0 L1049.1 147.7 L1049.5 142.9 L1050.0 137.8 L1050.4 132.9 L1050.9 128.4 L1051.4 124.8 L1051.8 122.4 L1052.3 121.5 L1052.7 122.7 L1053.2 125.9 L1053.6 130.3 L1054.1 135.3 L1054.5 140.0 L1055.0 145.2 L1055.5 151.0 L1055.9 157.2 L1056.4 163.3 L1056.9 169.4 L1057.4 175.4 L1057.9 181.4 L1058.3 187.6 L1058.8 194.1 L1059.3 200.9 L1059.8 208.1 L1060.2 214.4 L1060.5 221.4 L1060.9 228.5 L1061.3 234.8 L1061.8 242.1 L1062.3 249.0 L1062.8 255.6 L1063.2 261.9 L1063.7 268.0 L1064.2 273.9 L1064.7 279.7 L1065.2 286.0 L1065.7 292.9 L1066.2 299.8 L1066.6 306.3 L1067.1 311.6 L1067.6 315.2 L1068.1 316.5 L1068.6 315.5 L1069.1 313.0 L1069.6 309.3 L1070.1 304.9 L1070.5 300.3 L1071.0 295.9 L1071.5 292.2 L1072.0 289.7 L1072.5 288.7 L1073.0 289.7 L1073.4 292.3 L1073.9 296.3 L1074.3 301.3 L1074.8 306.8 L1075.2 312.4 L1075.7 317.9 L1076.1 322.9 L1076.6 326.9 L1077.0 329.5 L1077.5 330.5 L1077.9 328.6 L1078.4 323.5 L1078.8 316.2 L1079.2 307.8 L1079.6 299.1 L1080.1 291.2 L1080.5 285.0 L1081.0 279.4 L1081.4 273.6 L1081.9 268.0 L1082.3 262.9 L1082.8 258.8 L1083.2 256.0 L1083.7 255.0 L1084.2 257.1 L1084.6 262.6 L1085.1 270.3 L1085.6 279.0 L1086.0 287.6 L1086.5 295.0 L1086.9 301.5 L1087.4 308.7 L1087.8 316.2 L1088.2 323.4 L1088.7 329.9 L1089.1 335.2 L1089.6 338.7 L1090.0 340.0 L1090.4 338.8 L1090.9 335.7 L1091.3 331.1 L1091.8 325.7 L1092.2 319.8 L1092.6 314.0 L1093.1 308.9 L1093.5 305.0 L1094.0 301.6 L1094.4 298.0 L1094.9 294.5 L1095.3 291.3 L1095.8 288.4 L1096.3 286.2 L1096.7 284.7 L1097.2 284.2 L1097.6 285.0 L1098.1 286.9 L1098.5 289.3 L1099.0 291.2 L1099.4 292.0 L1099.9 291.3 L1100.3 289.5 L1100.8 286.8 L1101.2 283.6 L1101.7 280.0 L1102.1 276.4 L1102.6 273.2 L1103.0 270.5 L1103.5 268.7 L1103.9 268.0 L1104.3 270.4 L1104.8 276.8 L1105.2 286.0 L1105.6 296.7 L1106.1 307.6 L1106.5 317.5 L1107.0 327.5 L1107.4 338.1 L1107.8 348.6 L1108.3 358.3 L1108.8 368.1 L1109.2 378.2 L1109.7 387.5 L1110.1 394.9 L1110.6 399.0 L1110.9 400.5 L1111.3 401.6 L1111.6 402.0 L1112.0 401.4 L1112.5 400.0 L1112.9 398.0 L1113.4 395.8 L1113.8 393.8 L1114.3 392.4 L1114.7 391.8 L1115.2 392.7 L1115.6 395.1 L1116.1 398.3 L1116.6 402.0 L1117.0 405.4 L1117.5 408.0 L1117.9 410.0 L1118.4 412.1 L1118.8 414.1 L1119.2 416.0 L1119.6 417.4 L1120.1 418.4 L1120.5 418.8 L1120.9 418.2 L1121.4 416.6 L1121.8 414.1 L1122.2 411.0 L1122.6 407.4 L1123.1 403.7 L1123.5 400.0 L1123.9 395.9 L1124.4 391.0 L1124.8 385.4 L1125.3 379.3 L1125.7 372.8 L1126.1 365.9 L1126.6 358.3 L1127.0 349.6 L1127.4 339.7 L1127.9 325.4 L1128.3 307.6 L1128.8 290.5 L1129.2 278.3 L1129.6 271.3 L1130.0 265.7 L1130.5 260.9 L1130.9 256.5 L1131.3 252.2 L1131.7 247.6 L1132.2 243.1 L1132.6 238.8 L1133.0 234.9 L1133.5 231.5 L1133.9 228.7 L1134.4 226.1 L1134.8 223.6 L1135.2 221.4 L1135.7 219.5 L1136.1 218.3 L1136.6 217.8 L1137.0 219.1 L1137.4 222.6 L1137.8 227.6 L1138.2 233.4 L1138.6 239.2 L1139.1 247.1 L1139.5 256.8 L1140.0 267.5 L1140.5 278.3 L1140.9 288.6 L1141.3 300.1 L1141.8 311.5 L1142.2 321.6 L1142.6 329.1 L1143.0 334.2 L1143.4 338.2 L1143.9 341.8 L1144.3 345.3 L1144.7 349.5 L1145.2 355.1 L1145.7 361.3 L1146.2 367.7 L1146.6 374.3 L1147.1 380.9 L1147.6 387.4 L1148.1 394.1 L1148.6 401.2 L1149.0 408.4 L1149.5 415.1 L1150.0 420.9 L1150.5 425.3 L1151.0 428.8 L1151.5 432.1 L1152.0 435.2 L1152.5 438.0 L1152.9 440.5 L1153.4 442.7 L1153.9 444.5 L1154.4 446.0 L1154.9 447.1 L1155.4 447.9 L1155.9 448.7 L1156.3 449.4 L1156.8 450.0 L1157.3 450.5 L1157.8 451.0 L1158.2 451.4 L1158.7 451.7 L1159.2 452.0 L1159.7 452.3 L1160.2 452.5 L1160.6 452.7 L1161.1 453.0 L1161.6 453.1 L1162.0 453.3 L1162.5 453.4 L1163.0 453.4 L1163.5 453.4 L1164.0 453.4 L1164.5 453.4 L1165.0 453.4 L1165.5 453.4 L1166.0 453.4 L1166.5 453.4 L1167.0 453.4 L1167.5 453.4 L1168.0 453.4 L1168.5 453.4 L1169.0 453.4 L1169.5 453.4 L1170.0 453.4 L1170.5 453.4 L1171.0 453.4 L1171.5 453.4 L1172.0 453.4 L1172.5 453.4 L1173.0 453.4 L1173.4 453.4 L1173.9 453.4 L1174.4 453.4 L1174.9 453.4 L1175.4 453.4 L1175.9 453.4 L1176.4 453.4 L1176.9 453.4 L1177.4 453.4 L1177.9 453.4 L1178.4 453.4 L1178.9 453.4 L1179.4 453.4 L1179.9 453.4 L1180.4 453.4 L1180.9 453.4 L1181.4 453.4 L1181.9 453.4 L1182.4 453.4 L1182.9 453.4 L1183.4 453.4 L1183.9 453.4 L1184.4 453.4 L1184.9 453.4 L1185.4 453.4 L1185.9 453.4 L1186.4 453.4 L1186.9 453.4 L1187.4 453.4 L1187.9 453.4 L1188.4 453.4 L1188.9 453.4 L1189.4 453.4 L1189.9 453.4 L1190.4 453.4 L1190.9 453.4 L1191.4 453.4 L1191.9 453.4 L1192.4 453.4 L1192.9 453.4 L1193.4 453.4 L1193.8 453.4 L1194.3 453.4 L1194.8 453.4 L1195.3 453.4 L1195.8 453.4 L1196.3 453.4 L1196.8 453.4 L1197.3 453.4 L1197.8 453.4 L1198.3 453.4 L1198.8 453.4 L1199.3 453.4 L1199.8 453.4 L1200.3 453.4 L1200.8 453.4 L1201.3 453.4 L1201.8 453.4 L1202.3 453.4 L1202.8 453.4 L1203.3 453.4 L1203.8 453.4 L1204.3 453.4 L1204.8 453.4 L1205.3 453.4 L1205.8 453.4 L1206.3 453.4 L1206.8 453.4 L1207.3 453.4 L1207.8 453.4 L1208.3 453.4 L1208.8 453.4 L1209.3 453.4 L1209.8 453.4 L1210.3 453.4 L1210.8 453.4 L1211.3 453.4 L1211.8 453.4 L1212.3 453.4 L1212.8 453.4 L1213.3 453.4 L1213.8 453.4 L1214.2 453.4 L1214.7 453.4 L1215.2 453.4 L1215.7 453.4 L1216.2 453.4 L1216.7 453.4 L1217.2 453.4 L1217.7 453.4 L1218.2 453.4 L1218.7 453.4 L1219.2 453.4 L1219.7 453.4 L1220.2 453.4 L1220.7 453.4 L1221.2 453.4 L1221.7 453.4 L1222.2 453.4 L1222.7 453.4 L1223.2 453.4 L1223.7 453.4 L1224.2 453.4 L1224.7 453.4 L1225.2 453.4 L1225.7 453.4 L1226.2 453.4 L1226.7 453.4 L1227.2 453.4 L1227.7 453.4 L1228.2 453.4 L1228.7 453.4 L1229.2 453.4 L1229.7 453.4 L1230.2 453.4 L1230.7 453.4 L1231.2 453.4 L1231.7 453.4 L1232.2 453.4 L1232.7 453.4 L1233.2 453.4 L1233.7 453.4 L1234.2 453.4 L1234.6 453.4 L1235.1 453.4 L1235.6 453.4 L1236.1 453.4 L1236.6 453.4 L1237.1 453.4 L1237.6 453.4 L1238.1 453.4 L1238.6 453.4 L1239.1 453.4 L1239.6 453.4 L1240.1 453.4 L1240.6 453.4 L1241.1 453.4 L1241.6 453.4 L1242.1 453.4 L1242.6 453.4 L1243.1 453.4 L1243.6 453.4 L1244.1 453.4 L1244.6 453.4 L1245.1 453.4 L1245.6 453.4 L1246.1 453.4 L1246.6 453.4 L1247.1 453.4 L1247.6 453.4 L1248.1 453.4 L1248.6 453.4 L1249.1 453.4 L1249.6 453.4 L1250.1 453.4 L1250.6 453.4 L1251.1 453.4 L1251.6 453.4 L1252.1 453.4 L1252.6 453.4 L1253.1 453.4 L1253.6 453.4 L1254.1 453.4 L1254.6 453.4 L1255.0 453.4 L1255.5 453.4 L1256.0 453.4 L1256.5 453.4 L1257.0 453.4 L1257.5 453.4 L1258.0 453.4 L1258.5 453.4 L1259.0 453.4 L1259.5 453.4 L1260.0 453.4 L1260.5 453.4 L1261.0 453.4 L1261.5 453.4 L1262.0 453.4 L1262.5 453.4 L1263.0 453.4 L1263.5 453.4 L1264.0 453.4 L1264.5 453.4 L1265.0 453.4" fill="none" stroke="#d62a1f" stroke-width="2.8" stroke-linejoin="round" stroke-linecap="round"/>
<path d="M776.0 453.4 L776.4 453.2 L776.8 452.9 L777.2 452.6 L777.7 452.1 L778.1 451.5 L778.6 450.9 L779.1 450.1 L779.5 449.3 L780.0 448.4 L780.5 447.4 L780.9 446.4 L781.4 445.3 L781.8 444.2 L782.3 442.9 L782.7 441.5 L783.1 440.0 L783.6 438.4 L784.0 436.7 L784.5 435.1 L784.9 433.5 L785.4 431.9 L785.8 430.2 L786.2 428.5 L786.7 426.7 L787.1 425.0 L787.6 423.2 L788.0 421.3 L788.5 419.4 L788.9 417.4 L789.4 415.4 L789.8 413.2 L790.2 411.0 L790.7 408.8 L791.1 406.7 L791.6 404.7 L792.0 402.9 L792.4 401.2 L792.9 399.5 L793.3 397.9 L793.8 396.4 L794.2 394.9 L794.6 393.5 L795.1 392.3 L795.5 391.2 L796.0 390.1 L796.4 389.1 L796.9 388.2 L797.4 387.3 L797.9 386.4 L798.3 385.6 L798.8 384.9 L799.3 384.2 L799.7 383.5 L800.2 382.9 L800.7 382.3 L801.1 381.8 L801.6 381.2 L802.1 380.7 L802.6 380.3 L803.0 379.8 L803.5 379.4 L804.0 378.9 L804.5 378.5 L804.9 378.1 L805.4 377.7 L805.9 377.2 L806.4 376.8 L806.8 376.4 L807.3 375.9 L807.8 375.4 L808.3 374.9 L808.8 374.4 L809.3 373.9 L809.8 373.4 L810.2 372.8 L810.7 372.3 L811.2 371.8 L811.7 371.4 L812.2 370.9 L812.7 370.4 L813.2 370.0 L813.7 369.6 L814.1 369.2 L814.6 368.7 L815.1 368.3 L815.5 367.9 L816.0 367.5 L816.5 367.1 L817.0 366.9 L817.4 366.6 L817.9 366.5 L818.4 366.4 L818.8 366.3 L819.3 366.2 L819.7 366.2 L820.2 366.1 L820.6 366.1 L821.1 366.0 L821.5 366.0 L822.0 366.0 L822.5 366.0 L823.0 366.0 L823.5 366.0 L824.0 366.0 L824.5 366.0 L825.0 366.0 L825.5 366.0 L826.0 366.0 L826.5 366.0 L827.0 366.0 L827.5 366.0 L828.0 366.0 L828.5 366.0 L829.0 366.0 L829.5 366.0 L830.0 366.0 L830.5 366.0 L831.0 366.0 L831.5 366.0 L832.0 366.0 L832.5 366.0 L833.0 366.0 L833.5 366.0 L834.0 366.0 L834.5 366.0 L835.0 366.0 L835.5 366.0 L836.0 366.0 L836.5 366.0 L836.9 366.0 L837.4 366.0 L837.9 366.0 L838.4 366.0 L838.9 366.0 L839.4 366.0 L839.9 366.0 L840.4 366.0 L840.9 366.0 L841.4 366.0 L841.9 366.0 L842.4 366.0 L842.9 366.0 L843.4 366.0 L843.9 366.0 L844.4 366.0 L844.9 366.0 L845.4 366.0 L845.9 366.0 L846.4 366.0 L846.9 366.0 L847.4 366.0 L847.9 366.0 L848.4 366.0 L848.9 366.0 L849.4 366.0 L849.9 366.0 L850.4 366.0 L850.9 366.0 L851.4 366.0 L851.9 366.0 L852.4 366.0 L852.9 366.0 L853.4 366.0 L853.9 366.0 L854.4 366.0 L854.9 366.0 L855.4 366.0 L855.9 366.0 L856.4 366.0 L856.9 366.0 L857.4 366.0 L857.9 366.0 L858.4 366.0 L858.9 366.0 L859.4 366.0 L859.9 366.0 L860.4 366.0 L860.9 366.0 L861.4 366.0 L861.9 366.0 L862.4 366.0 L862.9 366.0 L863.4 366.0 L863.9 366.0 L864.4 366.0 L864.9 366.0 L865.4 366.0 L865.9 366.0 L866.4 366.0 L866.8 366.0 L867.3 366.0 L867.8 366.0 L868.3 366.0 L868.8 366.0 L869.3 366.0 L869.8 366.0 L870.3 366.0 L870.8 366.0 L871.3 366.0 L871.8 366.0 L872.3 366.0 L872.8 366.0 L873.3 366.0 L873.8 366.0 L874.3 366.0 L874.8 366.0 L875.3 366.0 L875.8 366.0 L876.3 366.0 L876.8 366.0 L877.3 366.0 L877.8 366.0 L878.3 366.0 L878.8 366.0 L879.3 366.0 L879.8 366.0 L880.3 366.0 L880.8 366.0 L881.3 366.0 L881.8 365.8 L882.3 365.2 L882.8 364.4 L883.2 363.5 L883.7 362.5 L884.2 361.5 L884.7 360.7 L885.2 359.9 L885.7 359.1 L886.2 358.2 L886.7 357.4 L887.1 356.6 L887.6 355.8 L888.1 355.2 L888.6 354.7 L889.1 354.4 L889.6 354.2 L890.1 354.0 L890.6 353.9 L891.1 353.7 L891.6 353.6 L892.0 353.5 L892.5 353.4 L893.0 353.3 L893.5 353.2 L894.0 353.1 L894.5 353.1 L895.0 353.0 L895.5 352.9 L895.9 352.9 L896.4 352.8 L896.9 352.8 L897.4 352.7 L897.8 352.7 L898.3 352.7 L898.8 352.6 L899.3 352.6 L899.7 352.6 L900.2 352.5 L900.7 352.5 L901.2 352.4 L901.6 352.4 L902.1 352.4 L902.6 352.3 L903.1 352.2 L903.5 352.2 L904.0 352.1 L904.4 352.0 L904.8 351.9 L905.2 351.8 L905.6 351.7 L906.0 351.5 L906.5 351.2 L906.9 350.7 L907.4 350.2 L907.9 349.5 L908.4 348.7 L908.8 348.0 L909.3 347.2 L909.8 346.4 L910.2 345.5 L910.6 344.5 L911.1 343.4 L911.5 342.3 L912.0 341.2 L912.4 340.1 L912.9 339.0 L913.3 338.0 L913.8 337.1 L914.3 336.2 L914.8 335.3 L915.3 334.4 L915.7 333.6 L916.2 332.8 L916.7 332.0 L917.2 331.2 L917.7 330.5 L918.2 329.7 L918.7 329.0 L919.2 328.3 L919.6 327.6 L920.1 326.8 L920.6 326.1 L921.1 325.4 L921.6 324.6 L922.1 323.9 L922.6 323.1 L923.1 322.4 L923.5 321.6 L924.0 320.8 L924.5 320.0 L925.0 319.1 L925.5 318.3 L925.9 317.4 L926.4 316.5 L926.9 315.7 L927.4 314.8 L927.8 313.9 L928.3 313.0 L928.8 312.1 L929.3 311.2 L929.7 310.3 L930.2 309.3 L930.7 308.4 L931.2 307.4 L931.6 306.4 L932.1 305.4 L932.6 304.4 L933.1 303.3 L933.5 302.3 L934.0 301.2 L934.5 300.0 L934.9 298.8 L935.4 297.4 L935.9 296.0 L936.4 294.5 L936.8 293.0 L937.3 291.4 L937.8 289.8 L938.3 288.2 L938.7 286.7 L939.2 285.2 L939.7 283.7 L940.2 282.4 L940.6 281.1 L941.1 279.9 L941.6 278.8 L942.1 277.9 L942.5 277.1 L943.0 276.5 L943.5 276.0 L943.9 275.7 L944.4 275.3 L944.8 275.0 L945.3 274.7 L945.7 274.5 L946.2 274.2 L946.6 273.9 L947.1 273.5 L947.6 273.1 L948.1 272.7 L948.5 272.2 L949.0 271.8 L949.5 271.3 L950.0 270.8 L950.5 270.3 L950.9 269.8 L951.4 269.2 L951.9 268.7 L952.4 268.2 L952.8 267.6 L953.3 267.0 L953.7 266.4 L954.2 265.8 L954.7 265.2 L955.1 264.6 L955.6 263.9 L956.1 263.2 L956.5 262.6 L957.0 261.9 L957.4 261.2 L957.9 260.5 L958.4 259.8 L958.8 259.1 L959.3 258.3 L959.8 257.6 L960.3 256.9 L960.7 256.1 L961.2 255.4 L961.7 254.6 L962.2 253.8 L962.6 253.1 L963.1 252.2 L963.6 251.4 L964.1 250.5 L964.5 249.7 L965.0 248.8 L965.5 247.8 L966.0 246.8 L966.4 245.8 L966.9 244.8 L967.4 243.7 L967.9 242.4 L968.3 241.0 L968.8 239.5 L969.3 238.0 L969.8 236.4 L970.2 234.8 L970.7 233.2 L971.2 231.7 L971.7 230.1 L972.2 228.6 L972.6 227.2 L973.1 225.9 L973.6 224.7 L974.1 223.6 L974.5 222.6 L975.0 221.6 L975.4 220.7 L975.9 219.8 L976.4 218.9 L976.8 218.0 L977.3 217.1 L977.7 216.3 L978.2 215.5 L978.6 214.8 L979.1 214.0 L979.5 213.3 L980.0 212.6 L980.4 212.0 L980.9 211.4 L981.3 210.7 L981.7 210.2 L982.2 209.6 L982.6 209.0 L983.1 208.4 L983.5 207.8 L984.0 207.3 L984.5 206.8 L984.9 206.2 L985.4 205.7 L985.9 205.2 L986.3 204.7 L986.8 204.2 L987.2 203.6 L987.7 203.1 L988.2 202.6 L988.6 202.0 L989.1 201.4 L989.6 200.8 L990.1 200.1 L990.6 199.4 L991.1 198.7 L991.6 198.0 L992.1 197.3 L992.6 196.6 L993.0 195.8 L993.5 195.1 L994.0 194.4 L994.5 193.6 L995.0 192.9 L995.5 192.2 L996.0 191.4 L996.5 190.7 L997.0 190.0 L997.5 189.3 L998.0 188.6 L998.5 187.9 L999.0 187.1 L999.4 186.4 L999.9 185.7 L1000.4 185.0 L1000.9 184.3 L1001.4 183.5 L1001.9 182.8 L1002.4 182.2 L1002.8 181.5 L1003.3 180.8 L1003.8 180.2 L1004.3 179.6 L1004.8 179.0 L1005.3 178.4 L1005.7 177.9 L1006.2 177.4 L1006.7 176.9 L1007.2 176.4 L1007.6 175.9 L1008.1 175.4 L1008.6 174.9 L1009.1 174.4 L1009.5 174.0 L1010.0 173.5 L1010.5 173.1 L1011.0 172.6 L1011.4 172.2 L1011.9 171.7 L1012.4 171.3 L1012.9 170.9 L1013.3 170.4 L1013.8 170.0 L1014.3 169.6 L1014.8 169.1 L1015.3 168.7 L1015.8 168.3 L1016.3 167.9 L1016.8 167.5 L1017.3 167.1 L1017.8 166.7 L1018.2 166.3 L1018.7 166.0 L1019.2 165.5 L1019.7 165.1 L1020.2 164.7 L1020.7 164.3 L1021.2 163.8 L1021.7 163.3 L1022.2 162.8 L1022.6 162.3 L1023.1 161.8 L1023.6 161.3 L1024.0 160.7 L1024.5 160.2 L1025.0 159.6 L1025.4 159.0 L1025.9 158.4 L1026.4 157.8 L1026.8 157.1 L1027.3 156.5 L1027.8 155.8 L1028.2 155.1 L1028.7 154.4 L1029.2 153.7 L1029.6 152.9 L1030.1 152.1 L1030.6 151.3 L1031.0 150.6 L1031.5 149.8 L1032.0 149.0 L1032.4 148.3 L1032.9 147.6 L1033.4 146.9 L1033.9 146.2 L1034.3 145.6 L1034.8 144.9 L1035.3 144.3 L1035.8 143.7 L1036.3 143.0 L1036.7 142.4 L1037.2 141.8 L1037.7 141.2 L1038.2 140.6 L1038.7 140.0 L1039.2 139.4 L1039.6 138.8 L1040.1 138.2 L1040.6 137.5 L1041.1 136.9 L1041.6 136.2 L1042.0 135.5 L1042.5 134.8 L1043.0 134.1 L1043.5 133.4 L1043.9 132.6 L1044.4 131.8 L1044.9 131.0 L1045.3 130.2 L1045.8 129.3 L1046.3 128.5 L1046.8 127.6 L1047.2 126.7 L1047.7 125.9 L1048.2 125.0 L1048.6 124.2 L1049.1 123.4 L1049.6 122.5 L1050.0 121.8 L1050.5 121.0 L1051.0 120.2 L1051.5 119.5 L1051.9 118.7 L1052.4 118.0 L1052.9 117.2 L1053.3 116.5 L1053.8 115.8 L1054.3 115.1 L1054.8 114.4 L1055.2 113.7 L1055.7 113.0 L1056.2 112.3 L1056.7 111.7 L1057.1 111.1 L1057.6 110.5 L1058.1 109.9 L1058.6 109.3 L1059.1 108.8 L1059.6 108.2 L1060.1 107.7 L1060.6 107.2 L1061.0 106.7 L1061.5 106.2 L1062.0 105.7 L1062.5 105.3 L1063.0 104.8 L1063.5 104.4 L1064.0 104.0 L1064.5 103.6 L1065.0 103.2 L1065.5 102.9 L1066.0 102.5 L1066.5 102.2 L1067.0 101.8 L1067.5 101.5 L1068.0 101.2 L1068.5 100.9 L1069.0 100.6 L1069.5 100.3 L1070.0 100.0 L1070.5 99.7 L1070.9 99.4 L1071.4 99.1 L1071.9 98.8 L1072.4 98.5 L1072.9 98.3 L1073.4 98.0 L1073.9 97.7 L1074.4 97.4 L1074.9 97.1 L1075.4 96.8 L1075.9 96.5 L1076.4 96.2 L1076.9 95.9 L1077.4 95.6 L1077.9 95.3 L1078.4 95.0 L1078.9 94.6 L1079.4 94.3 L1079.9 94.0 L1080.4 93.7 L1080.8 93.3 L1081.3 93.0 L1081.8 92.7 L1082.3 92.3 L1082.8 92.0 L1083.3 91.7 L1083.8 91.4 L1084.3 91.0 L1084.8 90.7 L1085.3 90.4 L1085.8 90.1 L1086.2 89.8 L1086.7 89.5 L1087.2 89.1 L1087.7 88.9 L1088.2 88.6 L1088.7 88.3 L1089.2 88.0 L1089.7 87.7 L1090.2 87.5 L1090.7 87.2 L1091.1 87.0 L1091.6 86.8 L1092.1 86.6 L1092.6 86.3 L1093.1 86.1 L1093.6 85.9 L1094.1 85.7 L1094.5 85.4 L1095.0 85.2 L1095.5 84.9 L1096.0 84.6 L1096.4 84.3 L1096.9 84.0 L1097.3 83.7 L1097.8 83.3 L1098.2 83.0 L1098.7 82.6 L1099.1 82.3 L1099.6 81.9 L1100.0 81.6 L1100.5 81.2 L1101.0 80.9 L1101.5 80.5 L1102.0 80.1 L1102.5 79.7 L1103.0 79.4 L1103.5 79.0 L1104.0 78.6 L1104.4 78.2 L1104.9 77.9 L1105.4 77.6 L1105.9 77.2 L1106.4 76.9 L1106.9 76.7 L1107.4 76.4 L1107.9 76.2 L1108.4 76.0 L1108.9 75.8 L1109.4 75.7 L1109.9 75.5 L1110.4 75.4 L1110.9 75.3 L1111.3 75.1 L1111.8 75.0 L1112.3 74.9 L1112.8 74.8 L1113.3 74.7 L1113.8 74.6 L1114.3 74.5 L1114.8 74.4 L1115.3 74.3 L1115.8 74.2 L1116.2 74.1 L1116.7 74.0 L1117.2 73.9 L1117.7 73.8 L1118.2 73.7 L1118.7 73.6 L1119.2 73.5 L1119.7 73.4 L1120.2 73.3 L1120.7 73.2 L1121.1 73.2 L1121.6 73.1 L1122.1 73.0 L1122.6 72.9 L1123.1 72.9 L1123.6 72.8 L1124.1 72.7 L1124.6 72.6 L1125.1 72.5 L1125.6 72.4 L1126.0 72.3 L1126.5 72.2 L1127.0 72.1 L1127.5 71.9 L1128.0 71.8 L1128.5 71.6 L1128.9 71.4 L1129.4 71.1 L1129.8 70.8 L1130.3 70.5 L1130.8 70.1 L1131.2 69.8 L1131.7 69.4 L1132.2 69.0 L1132.6 68.6 L1133.1 68.2 L1133.5 67.8 L1134.0 67.5 L1134.5 67.1 L1134.9 66.8 L1135.4 66.4 L1135.9 66.0 L1136.4 65.6 L1136.8 65.2 L1137.3 64.8 L1137.8 64.4 L1138.3 64.0 L1138.7 63.7 L1139.2 63.3 L1139.7 63.0 L1140.2 62.8 L1140.6 62.6 L1141.1 62.4 L1141.6 62.3 L1142.1 62.1 L1142.6 62.0 L1143.1 61.8 L1143.6 61.7 L1144.1 61.6 L1144.6 61.5 L1145.1 61.4 L1145.6 61.3 L1146.0 61.2 L1146.5 61.1 L1147.0 61.0 L1147.5 60.9 L1148.0 60.8 L1148.5 60.8 L1149.0 60.8 L1149.5 60.7 L1150.0 60.7 L1150.5 60.7 L1151.0 60.7 L1151.5 60.7 L1152.0 60.7 L1152.5 60.7 L1153.0 60.7 L1153.5 60.7 L1154.0 60.7 L1154.5 60.7 L1155.0 60.7 L1155.5 60.7 L1155.9 60.7 L1156.4 60.7 L1156.9 60.7 L1157.4 60.7 L1157.9 60.7 L1158.4 60.7 L1158.9 60.7 L1159.4 60.7 L1159.9 60.7 L1160.4 60.7 L1160.9 60.7 L1161.4 60.7 L1161.9 60.7 L1162.4 60.7 L1162.9 60.7 L1163.4 60.7 L1163.9 60.7 L1164.4 60.7 L1164.9 60.7 L1165.4 60.7 L1165.9 60.7 L1166.3 60.7 L1166.8 60.7 L1167.3 60.7 L1167.8 60.7 L1168.3 60.7 L1168.8 60.7 L1169.3 60.7 L1169.8 60.7 L1170.3 60.7 L1170.8 60.7 L1171.3 60.7 L1171.8 60.7 L1172.3 60.7 L1172.8 60.7 L1173.3 60.7 L1173.8 60.7 L1174.3 60.7 L1174.8 60.7 L1175.3 60.7 L1175.8 60.7 L1176.3 60.7 L1176.8 60.7 L1177.2 60.7 L1177.7 60.7 L1178.2 60.7 L1178.7 60.7 L1179.2 60.7 L1179.7 60.7 L1180.2 60.7 L1180.7 60.7 L1181.2 60.7 L1181.7 60.7 L1182.2 60.7 L1182.7 60.7 L1183.2 60.7 L1183.7 60.7 L1184.2 60.7 L1184.7 60.7 L1185.2 60.7 L1185.7 60.7 L1186.2 60.7 L1186.7 60.7 L1187.2 60.7 L1187.6 60.7 L1188.1 60.7 L1188.6 60.7 L1189.1 60.7 L1189.6 60.7 L1190.1 60.7 L1190.6 60.7 L1191.1 60.7 L1191.6 60.7 L1192.1 60.7 L1192.6 60.7 L1193.1 60.7 L1193.6 60.7 L1194.1 60.7 L1194.6 60.7 L1195.1 60.7 L1195.6 60.7 L1196.1 60.7 L1196.6 60.7 L1197.1 60.7 L1197.6 60.7 L1198.0 60.7 L1198.5 60.7 L1199.0 60.7 L1199.5 60.7 L1200.0 60.7 L1200.5 60.7 L1201.0 60.7 L1201.5 60.7 L1202.0 60.7 L1202.5 60.7 L1203.0 60.7" fill="none" stroke="#861a12" stroke-width="2.8" stroke-linejoin="round" stroke-linecap="butt"/>
<polygon points="1202.1,52.9 1218.1,60.7 1202.1,68.5" fill="#861a12"/>
<rect x="775.6" y="1.3" width="489.5" height="452.1" fill="none" stroke="#000" stroke-width="2.8"/>
<text transform="translate(776.00,484.60) scale(1.043,1)" text-anchor="middle" class="t">0</text>
<line x1="896.2" y1="453.4" x2="896.2" y2="446.5" stroke="#000" stroke-width="2.0"/>
<text transform="translate(896.23,484.60) scale(1.043,1)" text-anchor="middle" class="t">15</text>
<line x1="1016.5" y1="453.4" x2="1016.5" y2="446.5" stroke="#000" stroke-width="2.0"/>
<text transform="translate(1016.45,484.60) scale(1.043,1)" text-anchor="middle" class="t">30</text>
<line x1="1136.7" y1="453.4" x2="1136.7" y2="446.5" stroke="#000" stroke-width="2.0"/>
<text transform="translate(1136.67,484.60) scale(1.043,1)" text-anchor="middle" class="t">45</text>
<line x1="1256.9" y1="453.4" x2="1256.9" y2="446.5" stroke="#000" stroke-width="2.0"/>
<text transform="translate(1256.90,484.60) scale(1.043,1)" text-anchor="middle" class="t">60</text>
<text transform="translate(769.10,465.60) scale(1.043,1)" text-anchor="end" class="t">0.0</text>
<line x1="775.6" y1="357.1" x2="782.5" y2="357.1" stroke="#000" stroke-width="2.0"/>
<text transform="translate(769.10,369.35) scale(1.043,1)" text-anchor="end" class="t">0.5</text>
<line x1="775.6" y1="260.9" x2="782.5" y2="260.9" stroke="#000" stroke-width="2.0"/>
<text transform="translate(769.10,273.10) scale(1.043,1)" text-anchor="end" class="t">1.0</text>
<line x1="775.6" y1="164.6" x2="782.5" y2="164.6" stroke="#000" stroke-width="2.0"/>
<text transform="translate(769.10,176.85) scale(1.043,1)" text-anchor="end" class="t">1.5</text>
<line x1="775.6" y1="68.4" x2="782.5" y2="68.4" stroke="#000" stroke-width="2.0"/>
<text transform="translate(769.10,80.60) scale(1.043,1)" text-anchor="end" class="t">2.0</text>
<text transform="translate(1270.60,465.60) scale(1.043,1)" text-anchor="start" class="t">0</text>
<line x1="1265.1" y1="331.9" x2="1258.2" y2="331.9" stroke="#000" stroke-width="2.0"/>
<text transform="translate(1270.60,344.13) scale(1.043,1)" text-anchor="start" class="t">1</text>
<line x1="1265.1" y1="210.5" x2="1258.2" y2="210.5" stroke="#000" stroke-width="2.0"/>
<text transform="translate(1270.60,222.66) scale(1.043,1)" text-anchor="start" class="t">2</text>
<line x1="1265.1" y1="89.0" x2="1258.2" y2="89.0" stroke="#000" stroke-width="2.0"/>
<text transform="translate(1270.60,101.19) scale(1.043,1)" text-anchor="start" class="t">3</text>
<text transform="translate(1020.35,524.80) scale(1.043,1)" text-anchor="middle" class="t">Frequency (THz)</text>
<text transform="translate(700.6,227.3) rotate(-90) scale(1,0.96)" text-anchor="middle" class="s"><tspan class="i b" font-size="32">α</tspan><tspan class="sup" dy="-15" dx="1">2</tspan><tspan class="i" dy="15">F</tspan>(<tspan class="i b">ω</tspan>)</text>
<text transform="translate(1326.1,227.3) rotate(-90) scale(1,0.96)" text-anchor="middle" class="s i">λ</text>
<text transform="translate(794.63,50.80) scale(1.02,1)" text-anchor="start" class="lt">b</text>
<clipPath id="c2"><rect x="1440.7" y="1.3" width="489.5" height="452.09999999999997"/></clipPath>
<path clip-path="url(#c2)" d="M1441.1 453.4 L1441.5 453.3 L1441.9 453.1 L1442.3 452.7 L1442.7 452.3 L1443.2 451.4 L1443.7 449.8 L1444.2 447.8 L1444.6 445.3 L1445.1 442.6 L1445.6 439.7 L1446.1 436.9 L1446.6 433.9 L1447.1 430.6 L1447.6 426.9 L1448.0 423.0 L1448.5 418.8 L1449.0 414.5 L1449.5 410.0 L1449.9 405.4 L1450.4 400.2 L1450.8 394.8 L1451.3 389.7 L1451.7 385.3 L1452.1 381.4 L1452.6 377.6 L1453.0 374.2 L1453.5 371.4 L1453.9 369.6 L1454.4 368.4 L1454.8 367.3 L1455.2 366.6 L1455.7 366.3 L1456.2 366.9 L1456.6 368.7 L1457.1 371.2 L1457.5 374.2 L1458.0 377.5 L1458.4 380.8 L1458.9 384.6 L1459.3 389.4 L1459.8 394.4 L1460.2 399.2 L1460.7 403.3 L1461.2 406.7 L1461.6 409.8 L1462.1 412.6 L1462.6 415.3 L1463.1 418.0 L1463.5 420.6 L1464.0 423.4 L1464.5 426.4 L1465.0 429.6 L1465.5 432.7 L1465.9 435.8 L1466.4 438.7 L1466.9 441.4 L1467.4 443.6 L1467.9 445.5 L1468.3 447.3 L1468.8 449.0 L1469.2 450.5 L1469.6 451.6 L1470.1 452.3 L1470.6 452.7 L1471.0 453.1 L1471.5 453.3 L1472.0 453.4 L1472.5 453.4 L1473.0 453.4 L1473.5 453.4 L1474.0 453.4 L1474.5 453.4 L1475.0 453.4 L1475.5 453.4 L1476.0 453.4 L1476.5 453.4 L1476.9 453.4 L1477.4 453.4 L1477.9 453.4 L1478.4 453.4 L1478.9 453.4 L1479.4 453.4 L1479.9 453.4 L1480.4 453.4 L1480.9 453.4 L1481.4 453.4 L1481.9 453.4 L1482.4 453.4 L1482.9 453.4 L1483.4 453.4 L1483.9 453.4 L1484.4 453.4 L1484.9 453.4 L1485.4 453.4 L1485.9 453.4 L1486.3 453.4 L1486.8 453.4 L1487.3 453.4 L1487.8 453.4 L1488.3 453.4 L1488.8 453.4 L1489.3 453.4 L1489.8 453.4 L1490.3 453.4 L1490.8 453.4 L1491.3 453.4 L1491.8 453.4 L1492.3 453.4 L1492.8 453.4 L1493.3 453.4 L1493.8 453.4 L1494.3 453.4 L1494.8 453.4 L1495.3 453.4 L1495.7 453.4 L1496.2 453.4 L1496.7 453.4 L1497.2 453.4 L1497.7 453.4 L1498.2 453.4 L1498.7 453.4 L1499.2 453.4 L1499.7 453.4 L1500.2 453.4 L1500.7 453.4 L1501.2 453.4 L1501.7 453.4 L1502.2 453.4 L1502.7 453.4 L1503.2 453.4 L1503.7 453.4 L1504.2 453.4 L1504.7 453.4 L1505.1 453.4 L1505.6 453.4 L1506.1 453.4 L1506.6 453.4 L1507.1 453.4 L1507.6 453.4 L1508.1 453.4 L1508.6 453.4 L1509.1 453.4 L1509.6 453.4 L1510.1 453.4 L1510.6 453.4 L1511.1 453.4 L1511.6 453.4 L1512.1 453.4 L1512.6 453.4 L1513.1 453.4 L1513.6 453.4 L1514.1 453.4 L1514.5 453.4 L1515.0 453.4 L1515.5 453.4 L1516.0 453.4 L1516.5 453.4 L1517.0 453.4 L1517.5 453.4 L1518.0 453.4 L1518.5 453.4 L1519.0 453.4 L1519.4 453.3 L1519.8 453.0 L1520.1 452.6 L1520.5 452.0 L1521.0 450.1 L1521.4 446.5 L1521.8 441.8 L1522.3 436.9 L1522.7 431.5 L1523.2 424.9 L1523.6 417.8 L1524.1 410.4 L1524.5 403.3 L1525.0 395.8 L1525.4 387.9 L1525.9 380.2 L1526.3 373.1 L1526.8 367.4 L1527.2 363.0 L1527.7 359.2 L1528.1 355.8 L1528.6 352.6 L1529.0 349.5 L1529.4 346.8 L1529.9 344.7 L1530.3 342.5 L1530.8 339.8 L1531.2 336.0 L1531.6 327.7 L1532.1 315.4 L1532.5 305.0 L1533.0 296.3 L1533.4 288.7 L1533.9 285.5 L1534.4 289.0 L1534.8 296.8 L1535.2 304.5 L1535.7 308.0 L1536.1 305.9 L1536.6 300.6 L1537.0 293.2 L1537.4 285.0 L1537.9 272.6 L1538.3 256.2 L1538.8 240.0 L1539.2 224.9 L1539.7 210.0 L1540.1 200.0 L1540.5 194.3 L1541.0 190.0 L1541.4 188.3 L1541.8 189.5 L1542.2 191.6 L1542.6 192.8 L1543.0 191.8 L1543.4 189.3 L1543.8 186.0 L1544.2 180.7 L1544.6 172.9 L1545.0 165.0 L1545.4 156.7 L1545.8 148.2 L1546.2 142.0 L1546.6 138.1 L1546.9 135.0 L1547.3 133.7 L1547.7 135.4 L1548.1 139.5 L1548.5 145.0 L1548.9 153.6 L1549.3 166.1 L1549.7 180.0 L1550.1 193.8 L1550.4 209.2 L1550.8 225.0 L1551.2 244.5 L1551.7 265.0 L1552.1 284.3 L1552.4 300.0 L1552.8 310.1 L1553.2 314.7 L1553.7 311.8 L1554.1 304.2 L1554.6 293.7 L1555.0 281.8 L1555.5 270.3 L1555.9 260.8 L1556.4 251.9 L1556.8 242.5 L1557.2 235.2 L1557.7 232.2 L1558.2 232.9 L1558.7 234.4 L1559.1 235.8 L1559.6 236.5 L1560.0 235.9 L1560.4 234.6 L1560.8 233.1 L1561.2 231.8 L1561.6 231.2 L1562.0 232.9 L1562.3 237.2 L1562.7 243.3 L1563.1 250.0 L1563.5 260.8 L1563.9 275.7 L1564.4 291.7 L1564.8 305.7 L1565.2 317.7 L1565.7 328.8 L1566.1 339.3 L1566.6 350.0 L1567.1 362.4 L1567.5 375.4 L1568.0 387.0 L1568.5 395.0 L1569.0 400.5 L1569.5 405.3 L1569.9 408.7 L1570.4 410.0 L1570.9 408.4 L1571.3 404.0 L1571.8 397.6 L1572.3 390.0 L1572.7 380.6 L1573.0 366.8 L1573.4 351.1 L1573.8 336.0 L1574.2 316.5 L1574.7 294.9 L1575.1 276.8 L1575.6 267.6 L1576.0 265.2 L1576.5 264.2 L1576.9 264.5 L1577.4 265.4 L1577.8 266.6 L1578.3 268.1 L1578.7 269.8 L1579.2 272.4 L1579.6 276.1 L1580.0 280.0 L1580.5 283.3 L1581.0 286.4 L1581.5 289.6 L1582.0 292.8 L1582.4 295.7 L1582.9 298.0 L1583.4 299.5 L1583.9 300.1 L1584.3 300.0 L1584.8 299.7 L1585.2 299.4 L1585.7 299.1 L1586.1 299.0 L1586.6 299.2 L1587.0 299.6 L1587.5 300.2 L1587.9 300.6 L1588.4 300.8 L1588.9 299.3 L1589.3 295.5 L1589.8 290.4 L1590.3 284.7 L1590.8 279.6 L1591.2 275.8 L1591.7 274.3 L1592.2 275.2 L1592.6 277.6 L1593.0 281.1 L1593.5 285.4 L1594.0 290.0 L1594.4 294.6 L1594.9 298.9 L1595.3 302.4 L1595.8 304.8 L1596.2 305.7 L1596.7 302.3 L1597.2 293.5 L1597.7 281.2 L1598.1 267.6 L1598.6 254.5 L1599.1 244.1 L1599.6 238.4 L1599.9 236.6 L1600.3 235.7 L1600.8 239.8 L1601.2 249.8 L1601.7 262.6 L1602.2 274.8 L1602.5 282.8 L1602.9 291.2 L1603.2 300.0 L1603.6 311.1 L1604.0 322.7 L1604.4 334.3 L1604.8 345.0 L1605.2 356.6 L1605.7 368.6 L1606.1 379.7 L1606.6 388.9 L1607.0 395.0 L1607.4 398.7 L1607.8 402.1 L1608.2 404.8 L1608.6 406.6 L1609.0 407.3 L1609.4 406.7 L1609.8 404.9 L1610.2 402.3 L1610.6 398.9 L1611.0 395.0 L1611.4 388.0 L1611.8 376.4 L1612.2 362.4 L1612.6 348.3 L1613.0 336.0 L1613.4 325.1 L1613.8 314.4 L1614.2 304.8 L1614.6 297.3 L1615.0 291.4 L1615.3 286.0 L1615.7 282.0 L1616.1 280.4 L1616.5 280.9 L1617.0 282.1 L1617.5 283.3 L1617.9 283.8 L1618.4 282.2 L1618.8 277.8 L1619.3 271.0 L1619.7 262.3 L1620.2 252.4 L1620.6 239.6 L1620.9 220.6 L1621.3 200.0 L1621.7 175.7 L1622.0 149.2 L1622.4 130.0 L1622.8 117.0 L1623.2 105.9 L1623.6 98.1 L1624.0 95.2 L1624.5 98.0 L1624.9 105.3 L1625.3 114.9 L1625.8 125.0 L1626.2 138.2 L1626.7 156.1 L1627.1 174.2 L1627.6 188.3 L1628.0 194.0 L1628.5 192.2 L1628.9 187.3 L1629.4 180.2 L1629.8 171.7 L1630.3 162.9 L1630.7 154.4 L1631.2 147.3 L1631.6 142.4 L1632.1 140.6 L1632.5 144.0 L1632.8 152.7 L1633.2 164.2 L1633.6 176.0 L1634.1 194.3 L1634.5 215.7 L1635.0 232.0 L1635.4 241.2 L1635.8 249.8 L1636.2 256.9 L1636.6 261.8 L1637.0 263.6 L1637.4 261.7 L1637.9 257.1 L1638.3 251.4 L1638.8 246.3 L1639.2 243.5 L1639.7 242.6 L1640.1 242.0 L1640.6 241.6 L1641.0 241.0 L1641.5 240.0 L1641.9 237.7 L1642.3 233.3 L1642.7 227.7 L1643.1 221.3 L1643.5 215.0 L1643.9 208.0 L1644.3 200.1 L1644.8 191.4 L1645.2 182.5 L1645.6 173.5 L1646.0 164.8 L1646.4 155.0 L1646.9 144.3 L1647.3 134.0 L1647.8 125.4 L1648.2 120.0 L1648.6 117.0 L1649.0 114.4 L1649.4 112.7 L1649.8 112.0 L1650.2 113.8 L1650.7 118.5 L1651.1 124.7 L1651.6 131.2 L1652.0 139.9 L1652.5 151.9 L1652.9 165.1 L1653.4 177.2 L1653.8 186.1 L1654.3 189.5 L1654.7 188.7 L1655.2 186.4 L1655.6 182.9 L1656.1 178.1 L1656.5 172.4 L1657.0 165.8 L1657.4 158.5 L1657.9 150.6 L1658.3 142.4 L1658.7 131.5 L1659.2 116.5 L1659.6 100.0 L1660.0 83.7 L1660.3 65.5 L1660.7 50.0 L1661.0 37.4 L1661.4 26.3 L1661.7 21.5 L1662.0 25.8 L1662.4 36.4 L1662.7 50.0 L1663.1 77.1 L1663.5 110.0 L1663.9 136.9 L1664.2 163.4 L1664.6 188.1 L1665.0 209.7 L1665.5 234.8 L1665.9 259.6 L1666.3 278.5 L1666.8 286.0 L1667.2 283.9 L1667.7 278.1 L1668.2 269.1 L1668.6 257.7 L1669.0 244.4 L1669.5 230.0 L1669.9 209.5 L1670.2 182.5 L1670.6 164.8 L1671.0 156.8 L1671.4 150.4 L1671.8 146.2 L1672.2 144.7 L1672.7 147.3 L1673.1 154.3 L1673.5 164.3 L1674.0 176.0 L1674.4 191.3 L1674.7 212.0 L1675.1 230.0 L1675.6 247.0 L1676.0 262.7 L1676.5 276.8 L1676.9 288.5 L1677.4 297.3 L1677.8 303.2 L1678.2 308.6 L1678.5 312.6 L1678.9 314.1 L1679.4 312.9 L1679.9 309.7 L1680.3 305.7 L1680.8 301.7 L1681.3 298.5 L1681.8 297.3 L1682.3 299.0 L1682.7 303.3 L1683.2 308.9 L1683.7 314.6 L1684.1 318.9 L1684.6 320.6 L1685.0 320.3 L1685.4 319.6 L1685.8 318.7 L1686.3 317.8 L1686.7 317.1 L1687.1 316.8 L1687.6 319.1 L1688.0 324.7 L1688.5 331.8 L1689.0 338.5 L1689.4 345.0 L1689.9 352.6 L1690.3 359.9 L1690.8 365.4 L1691.2 367.6 L1691.7 365.8 L1692.1 361.1 L1692.6 354.4 L1693.0 346.5 L1693.5 338.5 L1693.9 329.8 L1694.4 319.1 L1694.8 307.1 L1695.3 294.7 L1695.7 282.4 L1696.1 268.2 L1696.6 251.6 L1697.0 235.7 L1697.5 223.8 L1697.9 219.1 L1698.4 222.8 L1698.8 232.1 L1699.3 244.7 L1699.7 258.1 L1700.2 270.0 L1700.6 281.4 L1701.1 294.5 L1701.5 306.7 L1702.0 315.8 L1702.4 319.4 L1702.9 316.6 L1703.4 309.2 L1703.8 298.7 L1704.3 286.9 L1704.8 275.1 L1705.3 265.0 L1705.8 255.9 L1706.2 245.6 L1706.7 235.0 L1707.1 225.2 L1707.6 217.1 L1708.0 211.5 L1708.5 209.4 L1709.0 214.2 L1709.5 226.9 L1710.0 244.6 L1710.4 264.5 L1710.9 283.9 L1711.4 300.0 L1711.9 313.8 L1712.3 328.1 L1712.8 339.8 L1713.2 346.0 L1713.6 347.9 L1714.0 349.5 L1714.4 350.4 L1714.8 350.8 L1715.2 349.4 L1715.7 345.6 L1716.1 340.2 L1716.6 333.8 L1717.0 327.3 L1717.4 320.0 L1717.8 310.7 L1718.2 300.2 L1718.7 289.4 L1719.1 279.0 L1719.5 270.0 L1719.9 261.9 L1720.2 253.5 L1720.6 246.9 L1721.0 244.2 L1721.4 246.3 L1721.8 251.8 L1722.2 259.3 L1722.6 267.5 L1723.0 275.0 L1723.4 283.3 L1723.8 293.3 L1724.2 303.6 L1724.7 312.7 L1725.1 319.2 L1725.5 321.7 L1726.0 318.5 L1726.4 310.2 L1726.8 298.5 L1727.3 285.1 L1727.8 271.7 L1728.2 260.0 L1728.6 250.7 L1729.0 241.1 L1729.4 231.7 L1729.8 222.9 L1730.2 215.0 L1730.7 206.3 L1731.1 197.3 L1731.6 188.7 L1732.0 181.5 L1732.5 176.6 L1732.9 174.7 L1733.3 176.4 L1733.8 180.8 L1734.2 187.0 L1734.7 194.1 L1735.1 201.3 L1735.6 207.6 L1736.0 212.0 L1736.5 215.4 L1736.9 218.7 L1737.4 221.9 L1737.8 224.9 L1738.3 227.5 L1738.7 229.8 L1739.2 231.5 L1739.6 232.6 L1740.1 233.0 L1740.6 232.2 L1741.0 230.0 L1741.5 226.8 L1742.0 223.2 L1742.5 219.7 L1743.0 216.5 L1743.4 214.3 L1743.9 213.5 L1744.3 216.7 L1744.7 224.9 L1745.2 236.2 L1745.6 248.6 L1746.0 260.0 L1746.4 273.0 L1746.8 288.2 L1747.3 300.8 L1747.7 306.0 L1748.2 305.0 L1748.6 302.5 L1749.0 298.9 L1749.5 294.8 L1750.0 290.6 L1750.4 287.0 L1750.8 284.5 L1751.3 283.5 L1751.7 284.7 L1752.2 287.5 L1752.6 290.8 L1753.1 293.6 L1753.5 294.8 L1754.0 293.1 L1754.4 288.6 L1754.8 282.1 L1755.3 274.6 L1755.8 266.9 L1756.2 260.0 L1756.7 253.0 L1757.1 244.7 L1757.5 235.7 L1758.0 226.5 L1758.5 217.4 L1758.9 208.9 L1759.4 201.5 L1759.8 195.6 L1760.2 191.8 L1760.7 190.4 L1761.2 195.2 L1761.6 207.5 L1762.1 224.4 L1762.5 242.9 L1763.0 260.0 L1763.5 274.6 L1763.9 289.4 L1764.3 306.3 L1764.8 327.3 L1765.2 355.5 L1765.5 380.0 L1765.8 389.5 L1766.2 396.2 L1766.5 398.8 L1766.9 397.7 L1767.3 395.0 L1767.8 391.2 L1768.2 387.0 L1768.6 383.0 L1769.0 380.0 L1769.5 377.3 L1769.9 374.5 L1770.3 371.9 L1770.8 369.8 L1771.2 368.3 L1771.7 367.7 L1772.1 369.1 L1772.6 372.8 L1773.0 378.0 L1773.4 384.2 L1773.8 390.5 L1774.3 396.2 L1774.7 400.7 L1775.2 404.8 L1775.7 408.8 L1776.1 412.5 L1776.6 415.4 L1777.1 417.2 L1777.6 418.1 L1778.0 418.7 L1778.5 419.2 L1778.9 419.8 L1779.4 420.7 L1779.9 422.4 L1780.4 424.9 L1780.8 427.9 L1781.3 431.0 L1781.8 433.7 L1782.2 436.1 L1782.7 438.6 L1783.1 441.2 L1783.5 443.8 L1784.0 446.1 L1784.4 448.1 L1784.9 449.6 L1785.3 450.6 L1785.8 451.2 L1786.3 451.7 L1786.7 452.1 L1787.2 452.5 L1787.7 452.7 L1788.2 452.9 L1788.6 453.1 L1789.1 453.3 L1789.5 453.4 L1790.0 453.4 L1790.5 453.4 L1791.0 453.4 L1791.5 453.4 L1792.0 453.4 L1792.4 453.4 L1792.9 453.4 L1793.4 453.4 L1793.9 453.4 L1794.4 453.4 L1794.9 453.4 L1795.4 453.4 L1795.9 453.4 L1796.3 453.4 L1796.8 453.4 L1797.3 453.4 L1797.8 453.4 L1798.3 453.4 L1798.8 453.4 L1799.3 453.4 L1799.8 453.4 L1800.3 453.4 L1800.7 453.4 L1801.2 453.4 L1801.7 453.4 L1802.2 453.4 L1802.7 453.4 L1803.2 453.4 L1803.7 453.4 L1804.2 453.4 L1804.7 453.4 L1805.1 453.4 L1805.6 453.4 L1806.1 453.4 L1806.6 453.4 L1807.1 453.4 L1807.6 453.4 L1808.1 453.4 L1808.6 453.4 L1809.0 453.4 L1809.5 453.4 L1810.0 453.4 L1810.5 453.4 L1811.0 453.4 L1811.4 453.3 L1811.8 453.0 L1812.2 452.5 L1812.6 452.0 L1813.1 451.1 L1813.6 449.6 L1814.1 447.7 L1814.5 445.4 L1815.0 442.6 L1815.5 439.5 L1816.0 436.0 L1816.5 431.2 L1816.9 424.4 L1817.4 416.4 L1817.8 408.2 L1818.3 400.7 L1818.8 392.9 L1819.2 384.2 L1819.7 375.5 L1820.2 367.9 L1820.6 362.6 L1821.1 360.6 L1821.6 361.8 L1822.1 364.9 L1822.5 369.0 L1823.0 373.4 L1823.5 377.1 L1824.0 380.3 L1824.5 383.6 L1824.9 386.5 L1825.4 388.9 L1825.9 390.5 L1826.3 391.7 L1826.8 392.8 L1827.2 394.1 L1827.7 396.0 L1828.2 399.8 L1828.7 405.7 L1829.1 412.5 L1829.6 419.0 L1830.1 424.2 L1830.5 427.9 L1830.9 431.1 L1831.3 432.5 L1831.7 432.4 L1832.2 432.0 L1832.6 431.6 L1833.0 431.0 L1833.4 430.6 L1833.9 430.2 L1834.3 430.1 L1834.8 430.8 L1835.3 432.6 L1835.8 435.0 L1836.2 437.5 L1836.7 439.6 L1837.2 440.7 L1837.6 441.1 L1838.1 441.3 L1838.5 441.5 L1839.0 441.7 L1839.4 441.8 L1839.8 442.0 L1840.3 442.3 L1840.7 442.6 L1841.2 443.3 L1841.6 444.3 L1842.1 445.5 L1842.5 446.7 L1843.0 447.8 L1843.5 448.8 L1844.0 449.9 L1844.4 450.9 L1844.9 451.7 L1845.4 452.2 L1845.8 452.5 L1846.3 452.8 L1846.7 453.0 L1847.1 453.2 L1847.6 453.4 L1848.0 453.4 L1848.5 453.4 L1849.0 453.4 L1849.5 453.4 L1850.0 453.4 L1850.5 453.4 L1851.0 453.4 L1851.5 453.4 L1852.0 453.4 L1852.5 453.4 L1853.0 453.4 L1853.5 453.4 L1854.0 453.4 L1854.5 453.4 L1855.0 453.4 L1855.5 453.4 L1856.0 453.4 L1856.4 453.4 L1856.9 453.4 L1857.4 453.4 L1857.9 453.4 L1858.4 453.4 L1858.9 453.4 L1859.4 453.4 L1859.9 453.4 L1860.4 453.4 L1860.9 453.4 L1861.4 453.4 L1861.9 453.4 L1862.4 453.4 L1862.9 453.4 L1863.4 453.4 L1863.9 453.4 L1864.4 453.4 L1864.9 453.4 L1865.4 453.4 L1865.9 453.4 L1866.4 453.4 L1866.9 453.4 L1867.4 453.4 L1867.9 453.4 L1868.4 453.4 L1868.9 453.4 L1869.4 453.4 L1869.9 453.4 L1870.4 453.4 L1870.9 453.4 L1871.4 453.4 L1871.9 453.4 L1872.4 453.4 L1872.8 453.4 L1873.3 453.4 L1873.8 453.4 L1874.3 453.4 L1874.8 453.4 L1875.3 453.4 L1875.8 453.4 L1876.3 453.4 L1876.8 453.4 L1877.3 453.4 L1877.8 453.4 L1878.3 453.4 L1878.8 453.4 L1879.3 453.4 L1879.8 453.4 L1880.3 453.4 L1880.8 453.4 L1881.3 453.4 L1881.8 453.4 L1882.3 453.4 L1882.8 453.4 L1883.3 453.4 L1883.8 453.4 L1884.3 453.4 L1884.8 453.4 L1885.3 453.4 L1885.8 453.4 L1886.3 453.4 L1886.8 453.4 L1887.3 453.4 L1887.8 453.4 L1888.3 453.4 L1888.8 453.4 L1889.2 453.4 L1889.7 453.4 L1890.2 453.4 L1890.7 453.4 L1891.2 453.4 L1891.7 453.4 L1892.2 453.4 L1892.7 453.4 L1893.2 453.4 L1893.7 453.4 L1894.2 453.4 L1894.7 453.4 L1895.2 453.4 L1895.7 453.4 L1896.2 453.4 L1896.7 453.4 L1897.2 453.4 L1897.7 453.4 L1898.2 453.4 L1898.7 453.4 L1899.2 453.4 L1899.7 453.4 L1900.2 453.4 L1900.7 453.4 L1901.2 453.4 L1901.7 453.4 L1902.2 453.4 L1902.7 453.4 L1903.2 453.4 L1903.7 453.4 L1904.2 453.4 L1904.7 453.4 L1905.2 453.4 L1905.6 453.4 L1906.1 453.4 L1906.6 453.4 L1907.1 453.4 L1907.6 453.4 L1908.1 453.4 L1908.6 453.4 L1909.1 453.4 L1909.6 453.4 L1910.1 453.4 L1910.6 453.4 L1911.1 453.4 L1911.6 453.4 L1912.1 453.4 L1912.6 453.4 L1913.1 453.4 L1913.6 453.4 L1914.1 453.4 L1914.6 453.4 L1915.1 453.4 L1915.6 453.4 L1916.1 453.4 L1916.6 453.4 L1917.1 453.4 L1917.6 453.4 L1918.1 453.4 L1918.6 453.4 L1919.1 453.4 L1919.6 453.4 L1920.1 453.4 L1920.6 453.4 L1921.1 453.4 L1921.6 453.4 L1922.0 453.4 L1922.5 453.4 L1923.0 453.4 L1923.5 453.4 L1924.0 453.4 L1924.5 453.4 L1925.0 453.4 L1925.5 453.4 L1926.0 453.4 L1926.5 453.4 L1927.0 453.4 L1927.5 453.4 L1928.0 453.4 L1928.5 453.4 L1929.0 453.4 L1929.5 453.4 L1930.0 453.4" fill="none" stroke="#d62a1f" stroke-width="2.8" stroke-linejoin="round" stroke-linecap="round"/>
<path d="M1441.1 453.4 L1441.5 453.2 L1441.9 452.9 L1442.3 452.5 L1442.7 452.1 L1443.2 451.5 L1443.7 450.8 L1444.2 449.9 L1444.6 448.9 L1445.1 447.9 L1445.6 446.7 L1446.1 445.4 L1446.6 444.1 L1447.1 442.7 L1447.6 441.2 L1448.0 439.6 L1448.5 438.0 L1449.0 436.4 L1449.5 434.7 L1450.0 432.9 L1450.5 430.8 L1451.0 428.6 L1451.5 426.1 L1451.9 423.5 L1452.4 420.8 L1452.9 418.0 L1453.4 415.1 L1453.9 412.2 L1454.4 409.1 L1454.9 405.7 L1455.4 402.1 L1455.8 398.4 L1456.3 394.7 L1456.8 391.1 L1457.3 387.6 L1457.8 384.1 L1458.3 380.4 L1458.8 376.7 L1459.2 373.1 L1459.7 369.9 L1460.2 367.2 L1460.7 365.1 L1461.2 363.5 L1461.7 362.0 L1462.2 360.6 L1462.7 359.3 L1463.1 358.2 L1463.6 357.2 L1464.1 356.4 L1464.6 355.7 L1465.1 355.1 L1465.5 354.6 L1466.0 354.2 L1466.4 353.8 L1466.9 353.4 L1467.3 353.0 L1467.8 352.7 L1468.2 352.5 L1468.7 352.3 L1469.1 352.1 L1469.6 352.1 L1470.1 352.1 L1470.6 352.1 L1471.1 352.1 L1471.6 352.1 L1472.1 352.1 L1472.6 352.1 L1473.1 352.1 L1473.6 352.1 L1474.1 352.1 L1474.6 352.1 L1475.1 352.1 L1475.6 352.1 L1476.1 352.1 L1476.6 352.1 L1477.1 352.1 L1477.6 352.1 L1478.1 352.1 L1478.5 352.1 L1479.0 352.1 L1479.5 352.1 L1480.0 352.1 L1480.5 352.1 L1481.0 352.1 L1481.5 352.1 L1482.0 352.1 L1482.5 352.1 L1483.0 352.1 L1483.5 352.1 L1484.0 352.1 L1484.5 352.1 L1485.0 352.1 L1485.5 352.1 L1486.0 352.1 L1486.5 352.1 L1487.0 352.1 L1487.5 352.1 L1488.0 352.1 L1488.5 352.1 L1489.0 352.1 L1489.5 352.1 L1490.0 352.1 L1490.5 352.1 L1491.0 352.1 L1491.5 352.1 L1492.0 352.1 L1492.5 352.1 L1493.0 352.1 L1493.5 352.1 L1494.0 352.1 L1494.5 352.1 L1495.0 352.1 L1495.5 352.1 L1495.9 352.1 L1496.4 352.1 L1496.9 352.1 L1497.4 352.1 L1497.9 352.1 L1498.4 352.1 L1498.9 352.1 L1499.4 352.1 L1499.9 352.1 L1500.4 352.1 L1500.9 352.1 L1501.4 352.1 L1501.9 352.1 L1502.4 352.1 L1502.9 352.1 L1503.4 352.1 L1503.9 352.1 L1504.4 352.1 L1504.9 352.1 L1505.4 352.1 L1505.9 352.1 L1506.4 352.1 L1506.9 352.1 L1507.4 352.1 L1507.9 352.1 L1508.4 352.1 L1508.9 352.1 L1509.4 352.1 L1509.9 352.1 L1510.4 352.1 L1510.9 352.1 L1511.4 352.1 L1511.9 352.1 L1512.4 352.1 L1512.9 352.1 L1513.4 352.1 L1513.8 352.1 L1514.3 352.1 L1514.8 352.1 L1515.3 352.1 L1515.8 352.1 L1516.3 352.1 L1516.8 352.1 L1517.3 352.1 L1517.8 352.1 L1518.3 352.1 L1518.8 352.1 L1519.3 352.1 L1519.8 352.1 L1520.3 352.1 L1520.8 352.1 L1521.3 352.1 L1521.8 352.1 L1522.3 352.1 L1522.8 352.1 L1523.2 351.9 L1523.6 351.8 L1524.1 351.5 L1524.5 351.2 L1525.0 350.9 L1525.5 350.6 L1525.9 350.2 L1526.3 349.9 L1526.8 349.5 L1527.3 349.1 L1527.7 348.7 L1528.2 348.2 L1528.7 347.7 L1529.1 347.1 L1529.6 346.5 L1530.1 345.9 L1530.5 345.3 L1531.0 344.6 L1531.5 344.0 L1531.9 343.3 L1532.4 342.7 L1532.8 342.1 L1533.3 341.5 L1533.7 340.9 L1534.2 340.3 L1534.6 339.6 L1535.1 338.9 L1535.5 338.2 L1536.0 337.4 L1536.4 336.5 L1536.9 335.5 L1537.3 334.3 L1537.8 333.0 L1538.2 331.6 L1538.7 330.0 L1539.2 328.5 L1539.6 326.8 L1540.1 325.1 L1540.6 323.4 L1541.0 321.8 L1541.5 320.1 L1541.9 318.5 L1542.4 316.9 L1542.9 315.3 L1543.4 313.7 L1543.8 312.0 L1544.3 310.4 L1544.8 308.7 L1545.3 307.0 L1545.8 305.3 L1546.2 303.7 L1546.7 302.1 L1547.2 300.5 L1547.7 298.9 L1548.1 297.4 L1548.6 295.9 L1549.1 294.5 L1549.6 293.1 L1550.0 291.8 L1550.5 290.5 L1551.0 289.2 L1551.5 287.9 L1551.9 286.7 L1552.4 285.4 L1552.9 284.2 L1553.4 283.0 L1553.8 281.9 L1554.3 280.7 L1554.8 279.6 L1555.3 278.4 L1555.7 277.3 L1556.2 276.2 L1556.7 275.2 L1557.2 274.1 L1557.6 273.1 L1558.1 272.1 L1558.6 271.1 L1559.1 270.0 L1559.5 269.0 L1560.0 267.9 L1560.5 266.9 L1561.0 265.8 L1561.4 264.9 L1561.9 263.9 L1562.4 263.0 L1562.9 262.2 L1563.4 261.4 L1563.8 260.7 L1564.3 260.2 L1564.8 259.7 L1565.3 259.3 L1565.8 259.0 L1566.3 258.7 L1566.7 258.4 L1567.2 258.2 L1567.7 258.0 L1568.2 257.8 L1568.7 257.6 L1569.2 257.4 L1569.7 257.1 L1570.1 256.9 L1570.6 256.6 L1571.1 256.3 L1571.6 255.9 L1572.1 255.4 L1572.6 254.9 L1573.0 254.2 L1573.5 253.5 L1574.0 252.7 L1574.5 251.9 L1574.9 251.0 L1575.4 250.2 L1575.9 249.3 L1576.4 248.4 L1576.9 247.5 L1577.3 246.6 L1577.8 245.8 L1578.3 245.1 L1578.8 244.4 L1579.2 243.7 L1579.7 243.0 L1580.2 242.4 L1580.7 241.7 L1581.1 241.0 L1581.6 240.4 L1582.1 239.7 L1582.6 239.1 L1583.0 238.4 L1583.5 237.8 L1584.0 237.2 L1584.5 236.5 L1584.9 235.9 L1585.4 235.3 L1585.9 234.7 L1586.4 234.0 L1586.8 233.4 L1587.3 232.8 L1587.8 232.2 L1588.3 231.5 L1588.8 230.9 L1589.2 230.3 L1589.7 229.7 L1590.2 229.1 L1590.7 228.6 L1591.2 228.0 L1591.7 227.4 L1592.2 226.8 L1592.6 226.3 L1593.1 225.7 L1593.6 225.1 L1594.1 224.5 L1594.6 223.9 L1595.1 223.4 L1595.5 222.8 L1596.0 222.2 L1596.5 221.5 L1597.0 220.9 L1597.5 220.3 L1598.0 219.6 L1598.5 219.0 L1598.9 218.3 L1599.4 217.6 L1599.9 216.9 L1600.4 216.2 L1600.9 215.4 L1601.3 214.6 L1601.8 213.7 L1602.3 212.7 L1602.7 211.8 L1603.2 210.8 L1603.6 209.9 L1604.1 209.1 L1604.6 208.3 L1605.0 207.7 L1605.5 207.2 L1606.0 206.8 L1606.4 206.5 L1606.9 206.2 L1607.4 205.9 L1607.8 205.7 L1608.3 205.4 L1608.8 205.2 L1609.2 205.0 L1609.7 204.8 L1610.2 204.6 L1610.6 204.4 L1611.1 204.2 L1611.6 203.9 L1612.0 203.6 L1612.5 203.3 L1613.0 202.9 L1613.5 202.5 L1614.0 202.1 L1614.5 201.7 L1615.0 201.2 L1615.5 200.7 L1616.0 200.2 L1616.5 199.7 L1617.0 199.1 L1617.5 198.6 L1617.9 198.0 L1618.4 197.4 L1618.9 196.7 L1619.4 196.1 L1619.9 195.4 L1620.4 194.7 L1620.9 194.0 L1621.4 193.2 L1621.9 192.5 L1622.4 191.7 L1622.9 190.9 L1623.4 189.9 L1623.8 188.9 L1624.3 187.8 L1624.8 186.6 L1625.3 185.4 L1625.8 184.2 L1626.2 182.9 L1626.7 181.7 L1627.2 180.5 L1627.7 179.3 L1628.1 178.1 L1628.6 177.1 L1629.1 176.1 L1629.6 175.2 L1630.1 174.3 L1630.6 173.4 L1631.0 172.5 L1631.5 171.6 L1632.0 170.8 L1632.5 170.0 L1633.0 169.1 L1633.5 168.4 L1634.0 167.6 L1634.4 166.9 L1634.9 166.2 L1635.4 165.5 L1635.9 164.8 L1636.4 164.2 L1636.9 163.5 L1637.4 163.0 L1637.9 162.4 L1638.4 161.9 L1638.9 161.4 L1639.4 160.8 L1639.9 160.4 L1640.3 159.9 L1640.8 159.4 L1641.3 158.9 L1641.8 158.4 L1642.3 157.8 L1642.8 157.3 L1643.3 156.7 L1643.8 156.1 L1644.3 155.5 L1644.8 154.8 L1645.3 154.1 L1645.7 153.4 L1646.2 152.6 L1646.7 151.8 L1647.2 151.0 L1647.6 150.2 L1648.1 149.3 L1648.6 148.4 L1649.1 147.5 L1649.5 146.5 L1650.0 145.6 L1650.5 144.6 L1651.0 143.7 L1651.4 142.7 L1651.9 141.7 L1652.4 140.8 L1652.9 139.8 L1653.3 138.8 L1653.8 137.9 L1654.3 136.9 L1654.8 135.9 L1655.3 134.9 L1655.7 133.8 L1656.2 132.8 L1656.7 131.7 L1657.2 130.6 L1657.7 129.5 L1658.2 128.4 L1658.7 127.3 L1659.1 126.3 L1659.6 125.2 L1660.1 124.2 L1660.6 123.1 L1661.1 122.1 L1661.6 121.1 L1662.0 120.2 L1662.5 119.3 L1663.0 118.4 L1663.5 117.6 L1664.0 116.8 L1664.5 116.1 L1665.0 115.4 L1665.4 114.7 L1665.9 114.0 L1666.4 113.3 L1666.9 112.7 L1667.4 112.1 L1667.9 111.4 L1668.4 110.8 L1668.8 110.2 L1669.3 109.5 L1669.8 108.9 L1670.3 108.2 L1670.8 107.5 L1671.3 106.7 L1671.8 106.0 L1672.3 105.2 L1672.8 104.4 L1673.2 103.7 L1673.7 102.9 L1674.2 102.2 L1674.7 101.5 L1675.2 100.8 L1675.7 100.2 L1676.2 99.7 L1676.7 99.2 L1677.2 98.8 L1677.7 98.3 L1678.2 97.9 L1678.6 97.5 L1679.1 97.1 L1679.6 96.8 L1680.1 96.4 L1680.6 96.0 L1681.1 95.7 L1681.6 95.4 L1682.1 95.0 L1682.6 94.7 L1683.0 94.4 L1683.5 94.1 L1684.0 93.8 L1684.5 93.4 L1685.0 93.1 L1685.5 92.8 L1685.9 92.5 L1686.4 92.2 L1686.8 91.9 L1687.3 91.6 L1687.7 91.3 L1688.2 91.0 L1688.6 90.7 L1689.1 90.4 L1689.5 90.2 L1690.0 89.9 L1690.5 89.7 L1690.9 89.4 L1691.4 89.2 L1691.8 89.0 L1692.3 88.8 L1692.7 88.6 L1693.2 88.4 L1693.6 88.2 L1694.1 87.9 L1694.5 87.7 L1695.0 87.4 L1695.5 87.1 L1696.0 86.7 L1696.5 86.3 L1696.9 85.8 L1697.4 85.3 L1697.9 84.8 L1698.4 84.3 L1698.9 83.8 L1699.4 83.2 L1699.9 82.7 L1700.3 82.2 L1700.8 81.7 L1701.3 81.2 L1701.8 80.7 L1702.3 80.2 L1702.8 79.8 L1703.3 79.3 L1703.7 78.8 L1704.2 78.3 L1704.7 77.8 L1705.2 77.3 L1705.7 76.8 L1706.2 76.4 L1706.6 75.9 L1707.1 75.4 L1707.6 75.0 L1708.1 74.5 L1708.6 74.1 L1709.1 73.7 L1709.5 73.3 L1710.0 73.0 L1710.5 72.6 L1711.0 72.3 L1711.5 72.0 L1712.0 71.7 L1712.4 71.5 L1712.9 71.3 L1713.4 71.0 L1713.8 70.8 L1714.3 70.6 L1714.8 70.4 L1715.3 70.2 L1715.8 70.0 L1716.2 69.8 L1716.7 69.6 L1717.2 69.3 L1717.6 69.1 L1718.1 68.9 L1718.6 68.6 L1719.1 68.3 L1719.6 68.0 L1720.0 67.7 L1720.5 67.5 L1721.0 67.2 L1721.5 66.8 L1722.0 66.5 L1722.4 66.2 L1722.9 65.9 L1723.4 65.5 L1723.9 65.2 L1724.4 64.9 L1724.9 64.5 L1725.3 64.1 L1725.8 63.8 L1726.3 63.4 L1726.8 63.0 L1727.3 62.6 L1727.7 62.2 L1728.2 61.8 L1728.7 61.4 L1729.2 61.0 L1729.7 60.5 L1730.2 60.0 L1730.7 59.5 L1731.2 58.9 L1731.7 58.4 L1732.2 57.8 L1732.7 57.2 L1733.1 56.6 L1733.6 56.1 L1734.1 55.5 L1734.6 54.9 L1735.1 54.3 L1735.6 53.7 L1736.1 53.2 L1736.6 52.6 L1737.1 52.1 L1737.6 51.6 L1738.1 51.0 L1738.6 50.5 L1739.1 50.0 L1739.6 49.4 L1740.1 48.9 L1740.6 48.4 L1741.1 47.9 L1741.5 47.3 L1742.0 46.8 L1742.5 46.3 L1743.0 45.9 L1743.5 45.4 L1744.0 44.9 L1744.5 44.5 L1745.0 44.1 L1745.5 43.7 L1746.0 43.3 L1746.5 43.0 L1747.0 42.6 L1747.5 42.3 L1748.0 42.0 L1748.5 41.7 L1749.0 41.4 L1749.5 41.1 L1750.0 40.9 L1750.5 40.6 L1751.0 40.3 L1751.4 40.1 L1751.9 39.8 L1752.4 39.5 L1752.9 39.2 L1753.4 38.9 L1753.9 38.7 L1754.4 38.4 L1754.9 38.0 L1755.4 37.7 L1755.9 37.4 L1756.4 37.0 L1756.9 36.6 L1757.4 36.2 L1757.8 35.7 L1758.3 35.3 L1758.8 34.7 L1759.2 34.2 L1759.7 33.7 L1760.2 33.2 L1760.7 32.7 L1761.2 32.2 L1761.6 31.7 L1762.1 31.2 L1762.6 30.8 L1763.0 30.5 L1763.5 30.2 L1764.0 29.9 L1764.5 29.7 L1765.0 29.5 L1765.4 29.3 L1765.9 29.0 L1766.4 28.9 L1766.9 28.7 L1767.4 28.5 L1767.9 28.3 L1768.3 28.1 L1768.8 27.9 L1769.3 27.8 L1769.8 27.6 L1770.3 27.5 L1770.8 27.3 L1771.2 27.2 L1771.7 27.1 L1772.2 26.9 L1772.7 26.8 L1773.2 26.7 L1773.6 26.6 L1774.1 26.5 L1774.6 26.4 L1775.1 26.3 L1775.6 26.2 L1776.1 26.2 L1776.5 26.1 L1777.0 26.1 L1777.5 26.0 L1778.0 26.0 L1778.5 25.9 L1779.0 25.9 L1779.5 25.8 L1780.0 25.8 L1780.5 25.7 L1781.0 25.7 L1781.5 25.6 L1782.0 25.6 L1782.5 25.6 L1783.0 25.5 L1783.5 25.5 L1784.0 25.5 L1784.4 25.4 L1784.9 25.4 L1785.4 25.4 L1785.9 25.3 L1786.4 25.3 L1786.9 25.3 L1787.4 25.3 L1787.9 25.3 L1788.4 25.2 L1788.9 25.2 L1789.4 25.2 L1789.9 25.2 L1790.4 25.2 L1790.9 25.2 L1791.4 25.2 L1791.9 25.2 L1792.4 25.2 L1792.9 25.2 L1793.4 25.2 L1793.9 25.2 L1794.4 25.2 L1794.9 25.2 L1795.4 25.2 L1795.9 25.2 L1796.4 25.2 L1796.9 25.2 L1797.4 25.2 L1797.9 25.2 L1798.3 25.2 L1798.8 25.2 L1799.3 25.2 L1799.8 25.2 L1800.3 25.2 L1800.8 25.2 L1801.3 25.2 L1801.8 25.2 L1802.3 25.2 L1802.8 25.2 L1803.3 25.2 L1803.8 25.2 L1804.3 25.2 L1804.8 25.2 L1805.3 25.2 L1805.8 25.2 L1806.3 25.2 L1806.8 25.2 L1807.3 25.2 L1807.8 25.2 L1808.3 25.2 L1808.8 25.2 L1809.3 25.2 L1809.8 25.2 L1810.3 25.2 L1810.8 25.2 L1811.3 25.2 L1811.8 25.2 L1812.2 25.2 L1812.7 25.2 L1813.2 25.2 L1813.7 25.2 L1814.2 25.2 L1814.7 25.2 L1815.2 25.2 L1815.7 25.2 L1816.2 25.2 L1816.7 25.2 L1817.2 25.2 L1817.7 25.2 L1818.2 25.2 L1818.7 25.2 L1819.2 25.2 L1819.7 25.1 L1820.2 25.1 L1820.7 25.0 L1821.2 24.9 L1821.7 24.8 L1822.2 24.6 L1822.7 24.5 L1823.2 24.3 L1823.7 24.2 L1824.2 24.0 L1824.6 23.9 L1825.1 23.7 L1825.6 23.5 L1826.1 23.4 L1826.6 23.2 L1827.1 23.1 L1827.6 23.0 L1828.1 22.9 L1828.6 22.8 L1829.1 22.7 L1829.6 22.7 L1830.1 22.7 L1830.6 22.7 L1831.1 22.6 L1831.6 22.6 L1832.1 22.6 L1832.6 22.6 L1833.0 22.5 L1833.5 22.5 L1834.0 22.5 L1834.5 22.5 L1835.0 22.5 L1835.5 22.5 L1836.0 22.4 L1836.5 22.4 L1837.0 22.4 L1837.5 22.4 L1838.0 22.4 L1838.5 22.4 L1839.0 22.3 L1839.5 22.3 L1839.9 22.3 L1840.4 22.3 L1840.9 22.3 L1841.4 22.3 L1841.9 22.3 L1842.4 22.3 L1842.9 22.3 L1843.4 22.3 L1843.9 22.2 L1844.4 22.2 L1844.9 22.2 L1845.4 22.2 L1845.9 22.2 L1846.4 22.2 L1846.8 22.2 L1847.3 22.2 L1847.8 22.2 L1848.3 22.2 L1848.8 22.2 L1849.3 22.2 L1849.8 22.2 L1850.3 22.2 L1850.8 22.2 L1851.3 22.2 L1851.8 22.2 L1852.3 22.2 L1852.8 22.2 L1853.3 22.2 L1853.8 22.2 L1854.3 22.2 L1854.8 22.2 L1855.3 22.2 L1855.8 22.2 L1856.2 22.2 L1856.7 22.2 L1857.2 22.2 L1857.7 22.2 L1858.2 22.2 L1858.7 22.2 L1859.2 22.2 L1859.7 22.2 L1860.2 22.2 L1860.7 22.2 L1861.2 22.2 L1861.7 22.2 L1862.2 22.2 L1862.7 22.2 L1863.2 22.2 L1863.7 22.2 L1864.2 22.2 L1864.7 22.2 L1865.2 22.2 L1865.7 22.2 L1866.2 22.2 L1866.7 22.2 L1867.2 22.2 L1867.7 22.2 L1868.2 22.2 L1868.6 22.2 L1869.1 22.2 L1869.6 22.2 L1870.1 22.2 L1870.6 22.2 L1871.1 22.2 L1871.6 22.2 L1872.1 22.2 L1872.6 22.2 L1873.1 22.2 L1873.6 22.2 L1874.1 22.2 L1874.6 22.2 L1875.1 22.2 L1875.6 22.2 L1876.1 22.2 L1876.6 22.2 L1877.1 22.2 L1877.6 22.2 L1878.1 22.2 L1878.6 22.2 L1879.1 22.2 L1879.6 22.2 L1880.1 22.2 L1880.6 22.2 L1881.0 22.2 L1881.5 22.2 L1882.0 22.2 L1882.5 22.2 L1883.0 22.2 L1883.5 22.2 L1884.0 22.2 L1884.5 22.2 L1885.0 22.2 L1885.5 22.2 L1886.0 22.2 L1886.5 22.2 L1887.0 22.2" fill="none" stroke="#861a12" stroke-width="2.8" stroke-linejoin="round" stroke-linecap="butt"/>
<polygon points="1887.9,14.7 1903.9,22.3 1887.9,29.9" fill="#861a12"/>
<rect x="1440.7" y="1.3" width="489.5" height="452.1" fill="none" stroke="#000" stroke-width="2.8"/>
<text transform="translate(1441.10,484.60) scale(1.043,1)" text-anchor="middle" class="t">0</text>
<line x1="1534.4" y1="453.4" x2="1534.4" y2="446.5" stroke="#000" stroke-width="2.0"/>
<text transform="translate(1534.44,484.60) scale(1.043,1)" text-anchor="middle" class="t">15</text>
<line x1="1627.8" y1="453.4" x2="1627.8" y2="446.5" stroke="#000" stroke-width="2.0"/>
<text transform="translate(1627.79,484.60) scale(1.043,1)" text-anchor="middle" class="t">30</text>
<line x1="1721.1" y1="453.4" x2="1721.1" y2="446.5" stroke="#000" stroke-width="2.0"/>
<text transform="translate(1721.13,484.60) scale(1.043,1)" text-anchor="middle" class="t">45</text>
<line x1="1814.5" y1="453.4" x2="1814.5" y2="446.5" stroke="#000" stroke-width="2.0"/>
<text transform="translate(1814.48,484.60) scale(1.043,1)" text-anchor="middle" class="t">60</text>
<line x1="1907.8" y1="453.4" x2="1907.8" y2="446.5" stroke="#000" stroke-width="2.0"/>
<text transform="translate(1907.82,484.60) scale(1.043,1)" text-anchor="middle" class="t">75</text>
<text transform="translate(1434.20,465.60) scale(1.043,1)" text-anchor="end" class="t">0.0</text>
<line x1="1440.7" y1="357.1" x2="1447.6" y2="357.1" stroke="#000" stroke-width="2.0"/>
<text transform="translate(1434.20,369.35) scale(1.043,1)" text-anchor="end" class="t">0.5</text>
<line x1="1440.7" y1="260.9" x2="1447.6" y2="260.9" stroke="#000" stroke-width="2.0"/>
<text transform="translate(1434.20,273.10) scale(1.043,1)" text-anchor="end" class="t">1.0</text>
<line x1="1440.7" y1="164.6" x2="1447.6" y2="164.6" stroke="#000" stroke-width="2.0"/>
<text transform="translate(1434.20,176.85) scale(1.043,1)" text-anchor="end" class="t">1.5</text>
<line x1="1440.7" y1="68.4" x2="1447.6" y2="68.4" stroke="#000" stroke-width="2.0"/>
<text transform="translate(1434.20,80.60) scale(1.043,1)" text-anchor="end" class="t">2.0</text>
<text transform="translate(1935.70,465.60) scale(1.043,1)" text-anchor="start" class="t">0</text>
<line x1="1930.2" y1="331.9" x2="1923.3" y2="331.9" stroke="#000" stroke-width="2.0"/>
<text transform="translate(1935.70,344.13) scale(1.043,1)" text-anchor="start" class="t">1</text>
<line x1="1930.2" y1="210.5" x2="1923.3" y2="210.5" stroke="#000" stroke-width="2.0"/>
<text transform="translate(1935.70,222.66) scale(1.043,1)" text-anchor="start" class="t">2</text>
<line x1="1930.2" y1="89.0" x2="1923.3" y2="89.0" stroke="#000" stroke-width="2.0"/>
<text transform="translate(1935.70,101.19) scale(1.043,1)" text-anchor="start" class="t">3</text>
<text transform="translate(1685.45,524.80) scale(1.043,1)" text-anchor="middle" class="t">Frequency (THz)</text>
<text transform="translate(1365.7,227.3) rotate(-90) scale(1,0.96)" text-anchor="middle" class="s"><tspan class="i b" font-size="32">α</tspan><tspan class="sup" dy="-15" dx="1">2</tspan><tspan class="i" dy="15">F</tspan>(<tspan class="i b">ω</tspan>)</text>
<text transform="translate(1991.2,227.3) rotate(-90) scale(1,0.96)" text-anchor="middle" class="s i">λ</text>
<text transform="translate(1467.00,51.20) scale(1.0,1)" text-anchor="start" class="lt">c</text>
<text transform="translate(403.66,135.80) scale(1.043,1)" text-anchor="start" class="t">Lu</text>
<text transform="translate(444.38,139.80) scale(1.043,1)" text-anchor="start" class="sub">4</text>
<text transform="translate(458.66,135.80) scale(1.043,1)" text-anchor="start" class="t">H</text>
<text transform="translate(484.61,139.80) scale(1.043,1)" text-anchor="start" class="sub">11</text>
<text transform="translate(509.46,135.80) scale(1.043,1)" text-anchor="start" class="t">N</text>
<text transform="translate(403.61,173.00) scale(1.043,1)" text-anchor="start" class="seri">T</text>
<text transform="translate(422.36,177.10) scale(1.043,1)" text-anchor="start" class="sub">c</text>
<text transform="translate(447.75,173.00) scale(0.93,1)" text-anchor="start" class="t">=</text>
<text transform="translate(487.12,173.00) scale(1.0224598930481286,1)" text-anchor="start" class="t">100 K</text>
<text transform="translate(404.00,208.80) scale(1.043,1)" text-anchor="start" class="t">20 GPa</text>
<text transform="translate(1068.46,135.80) scale(1.043,1)" text-anchor="start" class="t">LuH</text>
<text transform="translate(1135.46,139.80) scale(1.043,1)" text-anchor="start" class="sub">6</text>
<text transform="translate(1068.41,173.00) scale(1.043,1)" text-anchor="start" class="seri">T</text>
<text transform="translate(1087.16,177.10) scale(1.043,1)" text-anchor="start" class="sub">c</text>
<text transform="translate(1112.54,173.00) scale(0.93,1)" text-anchor="start" class="t">=</text>
<text transform="translate(1152.05,173.00) scale(1.0210970464135023,1)" text-anchor="start" class="t">246 K</text>
<text transform="translate(1068.44,208.80) scale(1.043,1)" text-anchor="start" class="t">100 GPa</text>
<text transform="translate(1734.56,112.60) scale(1.043,1)" text-anchor="start" class="t">LuH</text>
<text transform="translate(1800.81,117.80) scale(1.043,1)" text-anchor="start" class="sub">10</text>
<text transform="translate(1733.71,150.00) scale(1.043,1)" text-anchor="start" class="seri">T</text>
<text transform="translate(1752.46,154.10) scale(1.043,1)" text-anchor="start" class="sub">c</text>
<text transform="translate(1777.84,150.00) scale(0.93,1)" text-anchor="start" class="t">=</text>
<text transform="translate(1817.04,150.00) scale(1.0242616033755276,1)" text-anchor="start" class="t">289 K</text>
<text transform="translate(1734.14,185.70) scale(1.043,1)" text-anchor="start" class="t">175 GPa</text>
</svg>
</body></html>
